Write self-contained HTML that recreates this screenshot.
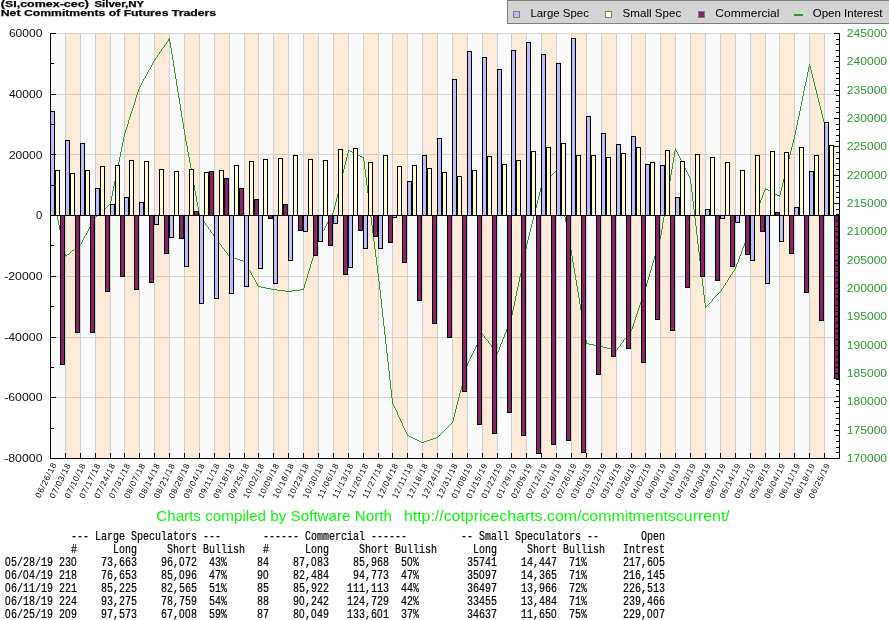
<!DOCTYPE html>
<html><head><meta charset="utf-8"><title>Net Commitments of Futures Traders - Silver</title>
<style>html,body{margin:0;padding:0;background:#fff;overflow:hidden}svg{display:block;will-change:transform}text{font-family:"Liberation Sans", sans-serif}.m{font-family:"Liberation Mono", monospace}</style></head><body>
<svg width="889" height="620" viewBox="0 0 889 620">
<rect x="0" y="0" width="889" height="620" fill="#ffffff"/>
<g shape-rendering="crispEdges">
<rect x="51" y="33" width="14" height="425" fill="#fafafa"/>
<rect x="66" y="33" width="14" height="425" fill="#fdebd9"/>
<rect x="81" y="33" width="14" height="425" fill="#fafafa"/>
<rect x="96" y="33" width="14" height="425" fill="#fdebd9"/>
<rect x="111" y="33" width="13" height="425" fill="#fafafa"/>
<rect x="125" y="33" width="14" height="425" fill="#fdebd9"/>
<rect x="140" y="33" width="14" height="425" fill="#fafafa"/>
<rect x="155" y="33" width="14" height="425" fill="#fdebd9"/>
<rect x="170" y="33" width="14" height="425" fill="#fafafa"/>
<rect x="185" y="33" width="14" height="425" fill="#fdebd9"/>
<rect x="200" y="33" width="14" height="425" fill="#fafafa"/>
<rect x="215" y="33" width="14" height="425" fill="#fdebd9"/>
<rect x="230" y="33" width="14" height="425" fill="#fafafa"/>
<rect x="245" y="33" width="13" height="425" fill="#fdebd9"/>
<rect x="259" y="33" width="14" height="425" fill="#fafafa"/>
<rect x="274" y="33" width="14" height="425" fill="#fdebd9"/>
<rect x="289" y="33" width="14" height="425" fill="#fafafa"/>
<rect x="304" y="33" width="14" height="425" fill="#fdebd9"/>
<rect x="319" y="33" width="14" height="425" fill="#fafafa"/>
<rect x="334" y="33" width="14" height="425" fill="#fdebd9"/>
<rect x="349" y="33" width="14" height="425" fill="#fafafa"/>
<rect x="364" y="33" width="14" height="425" fill="#fdebd9"/>
<rect x="379" y="33" width="13" height="425" fill="#fafafa"/>
<rect x="393" y="33" width="14" height="425" fill="#fdebd9"/>
<rect x="408" y="33" width="14" height="425" fill="#fafafa"/>
<rect x="423" y="33" width="14" height="425" fill="#fdebd9"/>
<rect x="438" y="33" width="14" height="425" fill="#fafafa"/>
<rect x="453" y="33" width="14" height="425" fill="#fdebd9"/>
<rect x="468" y="33" width="14" height="425" fill="#fafafa"/>
<rect x="483" y="33" width="14" height="425" fill="#fdebd9"/>
<rect x="498" y="33" width="13" height="425" fill="#fafafa"/>
<rect x="512" y="33" width="14" height="425" fill="#fdebd9"/>
<rect x="527" y="33" width="14" height="425" fill="#fafafa"/>
<rect x="542" y="33" width="14" height="425" fill="#fdebd9"/>
<rect x="557" y="33" width="14" height="425" fill="#fafafa"/>
<rect x="572" y="33" width="14" height="425" fill="#fdebd9"/>
<rect x="587" y="33" width="14" height="425" fill="#fafafa"/>
<rect x="602" y="33" width="14" height="425" fill="#fdebd9"/>
<rect x="617" y="33" width="14" height="425" fill="#fafafa"/>
<rect x="632" y="33" width="13" height="425" fill="#fdebd9"/>
<rect x="646" y="33" width="14" height="425" fill="#fafafa"/>
<rect x="661" y="33" width="14" height="425" fill="#fdebd9"/>
<rect x="676" y="33" width="14" height="425" fill="#fafafa"/>
<rect x="691" y="33" width="14" height="425" fill="#fdebd9"/>
<rect x="706" y="33" width="14" height="425" fill="#fafafa"/>
<rect x="721" y="33" width="14" height="425" fill="#fdebd9"/>
<rect x="736" y="33" width="14" height="425" fill="#fafafa"/>
<rect x="751" y="33" width="14" height="425" fill="#fdebd9"/>
<rect x="766" y="33" width="13" height="425" fill="#fafafa"/>
<rect x="780" y="33" width="14" height="425" fill="#fdebd9"/>
<rect x="795" y="33" width="14" height="425" fill="#fafafa"/>
<rect x="810" y="33" width="14" height="425" fill="#fdebd9"/>
<rect x="825" y="33" width="14" height="425" fill="#fafafa"/>
<rect x="65" y="33" width="1" height="425" fill="#cfcfcf"/>
<rect x="80" y="33" width="1" height="425" fill="#cfcfcf"/>
<rect x="95" y="33" width="1" height="425" fill="#cfcfcf"/>
<rect x="110" y="33" width="1" height="425" fill="#cfcfcf"/>
<rect x="124" y="33" width="1" height="425" fill="#cfcfcf"/>
<rect x="139" y="33" width="1" height="425" fill="#cfcfcf"/>
<rect x="154" y="33" width="1" height="425" fill="#cfcfcf"/>
<rect x="169" y="33" width="1" height="425" fill="#cfcfcf"/>
<rect x="184" y="33" width="1" height="425" fill="#cfcfcf"/>
<rect x="199" y="33" width="1" height="425" fill="#cfcfcf"/>
<rect x="214" y="33" width="1" height="425" fill="#cfcfcf"/>
<rect x="229" y="33" width="1" height="425" fill="#cfcfcf"/>
<rect x="244" y="33" width="1" height="425" fill="#cfcfcf"/>
<rect x="258" y="33" width="1" height="425" fill="#cfcfcf"/>
<rect x="273" y="33" width="1" height="425" fill="#cfcfcf"/>
<rect x="288" y="33" width="1" height="425" fill="#cfcfcf"/>
<rect x="303" y="33" width="1" height="425" fill="#cfcfcf"/>
<rect x="318" y="33" width="1" height="425" fill="#cfcfcf"/>
<rect x="333" y="33" width="1" height="425" fill="#cfcfcf"/>
<rect x="348" y="33" width="1" height="425" fill="#cfcfcf"/>
<rect x="363" y="33" width="1" height="425" fill="#cfcfcf"/>
<rect x="378" y="33" width="1" height="425" fill="#cfcfcf"/>
<rect x="392" y="33" width="1" height="425" fill="#cfcfcf"/>
<rect x="407" y="33" width="1" height="425" fill="#cfcfcf"/>
<rect x="422" y="33" width="1" height="425" fill="#cfcfcf"/>
<rect x="437" y="33" width="1" height="425" fill="#cfcfcf"/>
<rect x="452" y="33" width="1" height="425" fill="#cfcfcf"/>
<rect x="467" y="33" width="1" height="425" fill="#cfcfcf"/>
<rect x="482" y="33" width="1" height="425" fill="#cfcfcf"/>
<rect x="497" y="33" width="1" height="425" fill="#cfcfcf"/>
<rect x="511" y="33" width="1" height="425" fill="#cfcfcf"/>
<rect x="526" y="33" width="1" height="425" fill="#cfcfcf"/>
<rect x="541" y="33" width="1" height="425" fill="#cfcfcf"/>
<rect x="556" y="33" width="1" height="425" fill="#cfcfcf"/>
<rect x="571" y="33" width="1" height="425" fill="#cfcfcf"/>
<rect x="586" y="33" width="1" height="425" fill="#cfcfcf"/>
<rect x="601" y="33" width="1" height="425" fill="#cfcfcf"/>
<rect x="616" y="33" width="1" height="425" fill="#cfcfcf"/>
<rect x="631" y="33" width="1" height="425" fill="#cfcfcf"/>
<rect x="645" y="33" width="1" height="425" fill="#cfcfcf"/>
<rect x="660" y="33" width="1" height="425" fill="#cfcfcf"/>
<rect x="675" y="33" width="1" height="425" fill="#cfcfcf"/>
<rect x="690" y="33" width="1" height="425" fill="#cfcfcf"/>
<rect x="705" y="33" width="1" height="425" fill="#cfcfcf"/>
<rect x="720" y="33" width="1" height="425" fill="#cfcfcf"/>
<rect x="735" y="33" width="1" height="425" fill="#cfcfcf"/>
<rect x="750" y="33" width="1" height="425" fill="#cfcfcf"/>
<rect x="765" y="33" width="1" height="425" fill="#cfcfcf"/>
<rect x="779" y="33" width="1" height="425" fill="#cfcfcf"/>
<rect x="794" y="33" width="1" height="425" fill="#cfcfcf"/>
<rect x="809" y="33" width="1" height="425" fill="#cfcfcf"/>
<rect x="824" y="33" width="1" height="425" fill="#cfcfcf"/>
<rect x="51" y="33" width="788" height="1" fill="#d6d6d6"/>
<rect x="66" y="33" width="14" height="1" fill="#dcc9b2"/>
<rect x="96" y="33" width="14" height="1" fill="#dcc9b2"/>
<rect x="125" y="33" width="14" height="1" fill="#dcc9b2"/>
<rect x="155" y="33" width="14" height="1" fill="#dcc9b2"/>
<rect x="185" y="33" width="14" height="1" fill="#dcc9b2"/>
<rect x="215" y="33" width="14" height="1" fill="#dcc9b2"/>
<rect x="245" y="33" width="13" height="1" fill="#dcc9b2"/>
<rect x="274" y="33" width="14" height="1" fill="#dcc9b2"/>
<rect x="304" y="33" width="14" height="1" fill="#dcc9b2"/>
<rect x="334" y="33" width="14" height="1" fill="#dcc9b2"/>
<rect x="364" y="33" width="14" height="1" fill="#dcc9b2"/>
<rect x="393" y="33" width="14" height="1" fill="#dcc9b2"/>
<rect x="423" y="33" width="14" height="1" fill="#dcc9b2"/>
<rect x="453" y="33" width="14" height="1" fill="#dcc9b2"/>
<rect x="483" y="33" width="14" height="1" fill="#dcc9b2"/>
<rect x="512" y="33" width="14" height="1" fill="#dcc9b2"/>
<rect x="542" y="33" width="14" height="1" fill="#dcc9b2"/>
<rect x="572" y="33" width="14" height="1" fill="#dcc9b2"/>
<rect x="602" y="33" width="14" height="1" fill="#dcc9b2"/>
<rect x="632" y="33" width="13" height="1" fill="#dcc9b2"/>
<rect x="661" y="33" width="14" height="1" fill="#dcc9b2"/>
<rect x="691" y="33" width="14" height="1" fill="#dcc9b2"/>
<rect x="721" y="33" width="14" height="1" fill="#dcc9b2"/>
<rect x="751" y="33" width="14" height="1" fill="#dcc9b2"/>
<rect x="780" y="33" width="14" height="1" fill="#dcc9b2"/>
<rect x="810" y="33" width="14" height="1" fill="#dcc9b2"/>
<rect x="51" y="94" width="788" height="1" fill="#d6d6d6"/>
<rect x="66" y="94" width="14" height="1" fill="#dcc9b2"/>
<rect x="96" y="94" width="14" height="1" fill="#dcc9b2"/>
<rect x="125" y="94" width="14" height="1" fill="#dcc9b2"/>
<rect x="155" y="94" width="14" height="1" fill="#dcc9b2"/>
<rect x="185" y="94" width="14" height="1" fill="#dcc9b2"/>
<rect x="215" y="94" width="14" height="1" fill="#dcc9b2"/>
<rect x="245" y="94" width="13" height="1" fill="#dcc9b2"/>
<rect x="274" y="94" width="14" height="1" fill="#dcc9b2"/>
<rect x="304" y="94" width="14" height="1" fill="#dcc9b2"/>
<rect x="334" y="94" width="14" height="1" fill="#dcc9b2"/>
<rect x="364" y="94" width="14" height="1" fill="#dcc9b2"/>
<rect x="393" y="94" width="14" height="1" fill="#dcc9b2"/>
<rect x="423" y="94" width="14" height="1" fill="#dcc9b2"/>
<rect x="453" y="94" width="14" height="1" fill="#dcc9b2"/>
<rect x="483" y="94" width="14" height="1" fill="#dcc9b2"/>
<rect x="512" y="94" width="14" height="1" fill="#dcc9b2"/>
<rect x="542" y="94" width="14" height="1" fill="#dcc9b2"/>
<rect x="572" y="94" width="14" height="1" fill="#dcc9b2"/>
<rect x="602" y="94" width="14" height="1" fill="#dcc9b2"/>
<rect x="632" y="94" width="13" height="1" fill="#dcc9b2"/>
<rect x="661" y="94" width="14" height="1" fill="#dcc9b2"/>
<rect x="691" y="94" width="14" height="1" fill="#dcc9b2"/>
<rect x="721" y="94" width="14" height="1" fill="#dcc9b2"/>
<rect x="751" y="94" width="14" height="1" fill="#dcc9b2"/>
<rect x="780" y="94" width="14" height="1" fill="#dcc9b2"/>
<rect x="810" y="94" width="14" height="1" fill="#dcc9b2"/>
<rect x="51" y="154" width="788" height="1" fill="#d6d6d6"/>
<rect x="66" y="154" width="14" height="1" fill="#dcc9b2"/>
<rect x="96" y="154" width="14" height="1" fill="#dcc9b2"/>
<rect x="125" y="154" width="14" height="1" fill="#dcc9b2"/>
<rect x="155" y="154" width="14" height="1" fill="#dcc9b2"/>
<rect x="185" y="154" width="14" height="1" fill="#dcc9b2"/>
<rect x="215" y="154" width="14" height="1" fill="#dcc9b2"/>
<rect x="245" y="154" width="13" height="1" fill="#dcc9b2"/>
<rect x="274" y="154" width="14" height="1" fill="#dcc9b2"/>
<rect x="304" y="154" width="14" height="1" fill="#dcc9b2"/>
<rect x="334" y="154" width="14" height="1" fill="#dcc9b2"/>
<rect x="364" y="154" width="14" height="1" fill="#dcc9b2"/>
<rect x="393" y="154" width="14" height="1" fill="#dcc9b2"/>
<rect x="423" y="154" width="14" height="1" fill="#dcc9b2"/>
<rect x="453" y="154" width="14" height="1" fill="#dcc9b2"/>
<rect x="483" y="154" width="14" height="1" fill="#dcc9b2"/>
<rect x="512" y="154" width="14" height="1" fill="#dcc9b2"/>
<rect x="542" y="154" width="14" height="1" fill="#dcc9b2"/>
<rect x="572" y="154" width="14" height="1" fill="#dcc9b2"/>
<rect x="602" y="154" width="14" height="1" fill="#dcc9b2"/>
<rect x="632" y="154" width="13" height="1" fill="#dcc9b2"/>
<rect x="661" y="154" width="14" height="1" fill="#dcc9b2"/>
<rect x="691" y="154" width="14" height="1" fill="#dcc9b2"/>
<rect x="721" y="154" width="14" height="1" fill="#dcc9b2"/>
<rect x="751" y="154" width="14" height="1" fill="#dcc9b2"/>
<rect x="780" y="154" width="14" height="1" fill="#dcc9b2"/>
<rect x="810" y="154" width="14" height="1" fill="#dcc9b2"/>
<rect x="51" y="276" width="788" height="1" fill="#d6d6d6"/>
<rect x="66" y="276" width="14" height="1" fill="#dcc9b2"/>
<rect x="96" y="276" width="14" height="1" fill="#dcc9b2"/>
<rect x="125" y="276" width="14" height="1" fill="#dcc9b2"/>
<rect x="155" y="276" width="14" height="1" fill="#dcc9b2"/>
<rect x="185" y="276" width="14" height="1" fill="#dcc9b2"/>
<rect x="215" y="276" width="14" height="1" fill="#dcc9b2"/>
<rect x="245" y="276" width="13" height="1" fill="#dcc9b2"/>
<rect x="274" y="276" width="14" height="1" fill="#dcc9b2"/>
<rect x="304" y="276" width="14" height="1" fill="#dcc9b2"/>
<rect x="334" y="276" width="14" height="1" fill="#dcc9b2"/>
<rect x="364" y="276" width="14" height="1" fill="#dcc9b2"/>
<rect x="393" y="276" width="14" height="1" fill="#dcc9b2"/>
<rect x="423" y="276" width="14" height="1" fill="#dcc9b2"/>
<rect x="453" y="276" width="14" height="1" fill="#dcc9b2"/>
<rect x="483" y="276" width="14" height="1" fill="#dcc9b2"/>
<rect x="512" y="276" width="14" height="1" fill="#dcc9b2"/>
<rect x="542" y="276" width="14" height="1" fill="#dcc9b2"/>
<rect x="572" y="276" width="14" height="1" fill="#dcc9b2"/>
<rect x="602" y="276" width="14" height="1" fill="#dcc9b2"/>
<rect x="632" y="276" width="13" height="1" fill="#dcc9b2"/>
<rect x="661" y="276" width="14" height="1" fill="#dcc9b2"/>
<rect x="691" y="276" width="14" height="1" fill="#dcc9b2"/>
<rect x="721" y="276" width="14" height="1" fill="#dcc9b2"/>
<rect x="751" y="276" width="14" height="1" fill="#dcc9b2"/>
<rect x="780" y="276" width="14" height="1" fill="#dcc9b2"/>
<rect x="810" y="276" width="14" height="1" fill="#dcc9b2"/>
<rect x="51" y="337" width="788" height="1" fill="#d6d6d6"/>
<rect x="66" y="337" width="14" height="1" fill="#dcc9b2"/>
<rect x="96" y="337" width="14" height="1" fill="#dcc9b2"/>
<rect x="125" y="337" width="14" height="1" fill="#dcc9b2"/>
<rect x="155" y="337" width="14" height="1" fill="#dcc9b2"/>
<rect x="185" y="337" width="14" height="1" fill="#dcc9b2"/>
<rect x="215" y="337" width="14" height="1" fill="#dcc9b2"/>
<rect x="245" y="337" width="13" height="1" fill="#dcc9b2"/>
<rect x="274" y="337" width="14" height="1" fill="#dcc9b2"/>
<rect x="304" y="337" width="14" height="1" fill="#dcc9b2"/>
<rect x="334" y="337" width="14" height="1" fill="#dcc9b2"/>
<rect x="364" y="337" width="14" height="1" fill="#dcc9b2"/>
<rect x="393" y="337" width="14" height="1" fill="#dcc9b2"/>
<rect x="423" y="337" width="14" height="1" fill="#dcc9b2"/>
<rect x="453" y="337" width="14" height="1" fill="#dcc9b2"/>
<rect x="483" y="337" width="14" height="1" fill="#dcc9b2"/>
<rect x="512" y="337" width="14" height="1" fill="#dcc9b2"/>
<rect x="542" y="337" width="14" height="1" fill="#dcc9b2"/>
<rect x="572" y="337" width="14" height="1" fill="#dcc9b2"/>
<rect x="602" y="337" width="14" height="1" fill="#dcc9b2"/>
<rect x="632" y="337" width="13" height="1" fill="#dcc9b2"/>
<rect x="661" y="337" width="14" height="1" fill="#dcc9b2"/>
<rect x="691" y="337" width="14" height="1" fill="#dcc9b2"/>
<rect x="721" y="337" width="14" height="1" fill="#dcc9b2"/>
<rect x="751" y="337" width="14" height="1" fill="#dcc9b2"/>
<rect x="780" y="337" width="14" height="1" fill="#dcc9b2"/>
<rect x="810" y="337" width="14" height="1" fill="#dcc9b2"/>
<rect x="51" y="397" width="788" height="1" fill="#d6d6d6"/>
<rect x="66" y="397" width="14" height="1" fill="#dcc9b2"/>
<rect x="96" y="397" width="14" height="1" fill="#dcc9b2"/>
<rect x="125" y="397" width="14" height="1" fill="#dcc9b2"/>
<rect x="155" y="397" width="14" height="1" fill="#dcc9b2"/>
<rect x="185" y="397" width="14" height="1" fill="#dcc9b2"/>
<rect x="215" y="397" width="14" height="1" fill="#dcc9b2"/>
<rect x="245" y="397" width="13" height="1" fill="#dcc9b2"/>
<rect x="274" y="397" width="14" height="1" fill="#dcc9b2"/>
<rect x="304" y="397" width="14" height="1" fill="#dcc9b2"/>
<rect x="334" y="397" width="14" height="1" fill="#dcc9b2"/>
<rect x="364" y="397" width="14" height="1" fill="#dcc9b2"/>
<rect x="393" y="397" width="14" height="1" fill="#dcc9b2"/>
<rect x="423" y="397" width="14" height="1" fill="#dcc9b2"/>
<rect x="453" y="397" width="14" height="1" fill="#dcc9b2"/>
<rect x="483" y="397" width="14" height="1" fill="#dcc9b2"/>
<rect x="512" y="397" width="14" height="1" fill="#dcc9b2"/>
<rect x="542" y="397" width="14" height="1" fill="#dcc9b2"/>
<rect x="572" y="397" width="14" height="1" fill="#dcc9b2"/>
<rect x="602" y="397" width="14" height="1" fill="#dcc9b2"/>
<rect x="632" y="397" width="13" height="1" fill="#dcc9b2"/>
<rect x="661" y="397" width="14" height="1" fill="#dcc9b2"/>
<rect x="691" y="397" width="14" height="1" fill="#dcc9b2"/>
<rect x="721" y="397" width="14" height="1" fill="#dcc9b2"/>
<rect x="751" y="397" width="14" height="1" fill="#dcc9b2"/>
<rect x="780" y="397" width="14" height="1" fill="#dcc9b2"/>
<rect x="810" y="397" width="14" height="1" fill="#dcc9b2"/>
<rect x="65" y="33" width="1" height="425" fill="#cfcfcf"/>
<rect x="80" y="33" width="1" height="425" fill="#cfcfcf"/>
<rect x="95" y="33" width="1" height="425" fill="#cfcfcf"/>
<rect x="110" y="33" width="1" height="425" fill="#cfcfcf"/>
<rect x="124" y="33" width="1" height="425" fill="#cfcfcf"/>
<rect x="139" y="33" width="1" height="425" fill="#cfcfcf"/>
<rect x="154" y="33" width="1" height="425" fill="#cfcfcf"/>
<rect x="169" y="33" width="1" height="425" fill="#cfcfcf"/>
<rect x="184" y="33" width="1" height="425" fill="#cfcfcf"/>
<rect x="199" y="33" width="1" height="425" fill="#cfcfcf"/>
<rect x="214" y="33" width="1" height="425" fill="#cfcfcf"/>
<rect x="229" y="33" width="1" height="425" fill="#cfcfcf"/>
<rect x="244" y="33" width="1" height="425" fill="#cfcfcf"/>
<rect x="258" y="33" width="1" height="425" fill="#cfcfcf"/>
<rect x="273" y="33" width="1" height="425" fill="#cfcfcf"/>
<rect x="288" y="33" width="1" height="425" fill="#cfcfcf"/>
<rect x="303" y="33" width="1" height="425" fill="#cfcfcf"/>
<rect x="318" y="33" width="1" height="425" fill="#cfcfcf"/>
<rect x="333" y="33" width="1" height="425" fill="#cfcfcf"/>
<rect x="348" y="33" width="1" height="425" fill="#cfcfcf"/>
<rect x="363" y="33" width="1" height="425" fill="#cfcfcf"/>
<rect x="378" y="33" width="1" height="425" fill="#cfcfcf"/>
<rect x="392" y="33" width="1" height="425" fill="#cfcfcf"/>
<rect x="407" y="33" width="1" height="425" fill="#cfcfcf"/>
<rect x="422" y="33" width="1" height="425" fill="#cfcfcf"/>
<rect x="437" y="33" width="1" height="425" fill="#cfcfcf"/>
<rect x="452" y="33" width="1" height="425" fill="#cfcfcf"/>
<rect x="467" y="33" width="1" height="425" fill="#cfcfcf"/>
<rect x="482" y="33" width="1" height="425" fill="#cfcfcf"/>
<rect x="497" y="33" width="1" height="425" fill="#cfcfcf"/>
<rect x="511" y="33" width="1" height="425" fill="#cfcfcf"/>
<rect x="526" y="33" width="1" height="425" fill="#cfcfcf"/>
<rect x="541" y="33" width="1" height="425" fill="#cfcfcf"/>
<rect x="556" y="33" width="1" height="425" fill="#cfcfcf"/>
<rect x="571" y="33" width="1" height="425" fill="#cfcfcf"/>
<rect x="586" y="33" width="1" height="425" fill="#cfcfcf"/>
<rect x="601" y="33" width="1" height="425" fill="#cfcfcf"/>
<rect x="616" y="33" width="1" height="425" fill="#cfcfcf"/>
<rect x="631" y="33" width="1" height="425" fill="#cfcfcf"/>
<rect x="645" y="33" width="1" height="425" fill="#cfcfcf"/>
<rect x="660" y="33" width="1" height="425" fill="#cfcfcf"/>
<rect x="675" y="33" width="1" height="425" fill="#cfcfcf"/>
<rect x="690" y="33" width="1" height="425" fill="#cfcfcf"/>
<rect x="705" y="33" width="1" height="425" fill="#cfcfcf"/>
<rect x="720" y="33" width="1" height="425" fill="#cfcfcf"/>
<rect x="735" y="33" width="1" height="425" fill="#cfcfcf"/>
<rect x="750" y="33" width="1" height="425" fill="#cfcfcf"/>
<rect x="765" y="33" width="1" height="425" fill="#cfcfcf"/>
<rect x="779" y="33" width="1" height="425" fill="#cfcfcf"/>
<rect x="794" y="33" width="1" height="425" fill="#cfcfcf"/>
<rect x="809" y="33" width="1" height="425" fill="#cfcfcf"/>
<rect x="824" y="33" width="1" height="425" fill="#cfcfcf"/>
</g>
<path d="M50 183h1v3h-1zM51 186h1v5h-1zM52 191h1v5h-1zM53 196h1v5h-1zM54 201h1v4h-1zM55 205h1v5h-1zM56 210h1v5h-1zM57 215h1v5h-1zM58 220h1v5h-1zM59 225h1v5h-1zM60 230h1v5h-1zM61 235h1v4h-1zM62 239h1v5h-1zM63 244h1v5h-1zM64 249h1v5h-1zM65 254h1v3h-1zM66 255h1v1h-1zM67 254h1v1h-1zM68 254h1v1h-1zM69 253h1v1h-1zM70 252h1v1h-1zM71 251h1v1h-1zM72 250h1v1h-1zM73 250h1v1h-1zM74 249h1v1h-1zM75 248h1v1h-1zM76 247h1v1h-1zM77 246h1v1h-1zM78 246h1v1h-1zM79 245h1v1h-1zM80 244h1v1h-1zM81 242h1v2h-1zM82 240h1v2h-1zM83 238h1v2h-1zM84 236h1v2h-1zM85 235h1v1h-1zM86 233h1v2h-1zM87 231h1v2h-1zM88 229h1v2h-1zM89 227h1v2h-1zM90 226h1v1h-1zM91 224h1v2h-1zM92 222h1v2h-1zM93 220h1v2h-1zM94 218h1v2h-1zM95 217h1v1h-1zM96 216h1v1h-1zM97 215h1v1h-1zM98 214h1v1h-1zM99 213h1v1h-1zM100 212h1v1h-1zM101 211h1v1h-1zM102 210h1v1h-1zM103 210h1v1h-1zM104 209h1v1h-1zM105 208h1v1h-1zM106 207h1v1h-1zM107 206h1v1h-1zM108 205h1v1h-1zM109 204h1v1h-1zM110 201h1v3h-1zM111 196h1v5h-1zM112 191h1v5h-1zM113 186h1v5h-1zM114 181h1v5h-1zM115 176h1v5h-1zM116 171h1v5h-1zM117 167h1v4h-1zM118 162h1v5h-1zM119 157h1v5h-1zM120 152h1v5h-1zM121 147h1v5h-1zM122 142h1v5h-1zM123 137h1v5h-1zM124 133h1v4h-1zM125 130h1v3h-1zM126 127h1v3h-1zM127 124h1v3h-1zM128 120h1v4h-1zM129 117h1v3h-1zM130 114h1v3h-1zM131 111h1v3h-1zM132 108h1v3h-1zM133 105h1v3h-1zM134 102h1v3h-1zM135 98h1v4h-1zM136 95h1v3h-1zM137 92h1v3h-1zM138 89h1v3h-1zM139 87h1v2h-1zM140 85h1v2h-1zM141 83h1v2h-1zM142 81h1v2h-1zM143 79h1v2h-1zM144 78h1v1h-1zM145 76h1v2h-1zM146 74h1v2h-1zM147 72h1v2h-1zM148 70h1v2h-1zM149 69h1v1h-1zM150 67h1v2h-1zM151 65h1v2h-1zM152 63h1v2h-1zM153 61h1v2h-1zM154 60h1v1h-1zM155 58h1v2h-1zM156 57h1v1h-1zM157 55h1v2h-1zM158 54h1v1h-1zM159 52h1v2h-1zM160 51h1v1h-1zM161 49h1v2h-1zM162 48h1v1h-1zM163 47h1v1h-1zM164 45h1v2h-1zM165 44h1v1h-1zM166 42h1v2h-1zM167 41h1v1h-1zM168 39h1v2h-1zM169 38h1v4h-1zM170 42h1v6h-1zM171 48h1v6h-1zM172 54h1v6h-1zM173 60h1v7h-1zM174 67h1v6h-1zM175 73h1v6h-1zM176 79h1v7h-1zM177 86h1v6h-1zM178 92h1v6h-1zM179 98h1v6h-1zM180 104h1v7h-1zM181 111h1v6h-1zM182 117h1v6h-1zM183 123h1v6h-1zM184 129h1v6h-1zM185 135h1v6h-1zM186 141h1v5h-1zM187 146h1v6h-1zM188 152h1v5h-1zM189 157h1v6h-1zM190 163h1v5h-1zM191 168h1v6h-1zM192 174h1v6h-1zM193 180h1v5h-1zM194 185h1v6h-1zM195 191h1v5h-1zM196 196h1v6h-1zM197 202h1v5h-1zM198 207h1v6h-1zM199 213h1v3h-1zM200 216h1v2h-1zM201 218h1v1h-1zM202 219h1v1h-1zM203 220h1v2h-1zM204 222h1v1h-1zM205 223h1v2h-1zM206 225h1v1h-1zM207 226h1v1h-1zM208 227h1v2h-1zM209 229h1v1h-1zM210 230h1v2h-1zM211 232h1v1h-1zM212 233h1v1h-1zM213 234h1v2h-1zM214 236h1v1h-1zM215 237h1v2h-1zM216 239h1v1h-1zM217 240h1v1h-1zM218 241h1v2h-1zM219 243h1v1h-1zM220 244h1v1h-1zM221 245h1v2h-1zM222 247h1v1h-1zM223 248h1v1h-1zM224 249h1v2h-1zM225 251h1v1h-1zM226 252h1v1h-1zM227 253h1v2h-1zM228 255h1v1h-1zM229 256h1v1h-1zM230 256h1v1h-1zM231 257h1v1h-1zM232 257h1v1h-1zM233 257h1v1h-1zM234 258h1v1h-1zM235 258h1v1h-1zM236 258h1v1h-1zM237 259h1v1h-1zM238 259h1v1h-1zM239 259h1v1h-1zM240 260h1v1h-1zM241 260h1v1h-1zM242 260h1v1h-1zM243 261h1v1h-1zM244 261h1v1h-1zM245 262h1v2h-1zM246 264h1v2h-1zM247 266h1v2h-1zM248 268h1v2h-1zM249 270h1v1h-1zM250 271h1v2h-1zM251 273h1v2h-1zM252 275h1v2h-1zM253 277h1v1h-1zM254 278h1v2h-1zM255 280h1v2h-1zM256 282h1v2h-1zM257 284h1v2h-1zM258 286h1v1h-1zM259 286h1v1h-1zM260 286h1v1h-1zM261 287h1v1h-1zM262 287h1v1h-1zM263 287h1v1h-1zM264 287h1v1h-1zM265 287h1v1h-1zM266 288h1v1h-1zM267 288h1v1h-1zM268 288h1v1h-1zM269 288h1v1h-1zM270 288h1v1h-1zM271 289h1v1h-1zM272 289h1v1h-1zM273 289h1v1h-1zM274 289h1v1h-1zM275 289h1v1h-1zM276 289h1v1h-1zM277 290h1v1h-1zM278 290h1v1h-1zM279 290h1v1h-1zM280 290h1v1h-1zM281 290h1v1h-1zM282 290h1v1h-1zM283 290h1v1h-1zM284 290h1v1h-1zM285 291h1v1h-1zM286 291h1v1h-1zM287 291h1v1h-1zM288 291h1v1h-1zM289 291h1v1h-1zM290 291h1v1h-1zM291 291h1v1h-1zM292 290h1v1h-1zM293 290h1v1h-1zM294 290h1v1h-1zM295 290h1v1h-1zM296 290h1v1h-1zM297 290h1v1h-1zM298 290h1v1h-1zM299 290h1v1h-1zM300 289h1v1h-1zM301 289h1v1h-1zM302 289h1v1h-1zM303 288h1v2h-1zM304 284h1v4h-1zM305 281h1v3h-1zM306 278h1v3h-1zM307 274h1v4h-1zM308 271h1v3h-1zM309 268h1v3h-1zM310 264h1v4h-1zM311 261h1v3h-1zM312 258h1v3h-1zM313 254h1v4h-1zM314 251h1v3h-1zM315 248h1v3h-1zM316 244h1v4h-1zM317 241h1v3h-1zM318 239h1v2h-1zM319 237h1v2h-1zM320 235h1v2h-1zM321 233h1v2h-1zM322 231h1v2h-1zM323 230h1v1h-1zM324 228h1v2h-1zM325 226h1v2h-1zM326 224h1v2h-1zM327 222h1v2h-1zM328 221h1v1h-1zM329 219h1v2h-1zM330 217h1v2h-1zM331 215h1v2h-1zM332 213h1v2h-1zM333 210h1v3h-1zM334 206h1v4h-1zM335 202h1v4h-1zM336 198h1v4h-1zM337 194h1v4h-1zM338 190h1v4h-1zM339 186h1v4h-1zM340 181h1v5h-1zM341 177h1v4h-1zM342 173h1v4h-1zM343 169h1v4h-1zM344 165h1v4h-1zM345 161h1v4h-1zM346 157h1v4h-1zM347 153h1v4h-1zM348 150h1v3h-1zM349 150h1v1h-1zM350 151h1v1h-1zM351 151h1v1h-1zM352 152h1v1h-1zM353 152h1v1h-1zM354 153h1v1h-1zM355 153h1v1h-1zM356 154h1v1h-1zM357 154h1v1h-1zM358 155h1v1h-1zM359 155h1v1h-1zM360 156h1v1h-1zM361 156h1v1h-1zM362 157h1v1h-1zM363 157h1v4h-1zM364 161h1v8h-1zM365 169h1v8h-1zM366 177h1v8h-1zM367 185h1v8h-1zM368 193h1v8h-1zM369 201h1v8h-1zM370 209h1v8h-1zM371 217h1v8h-1zM372 225h1v8h-1zM373 233h1v8h-1zM374 241h1v8h-1zM375 249h1v8h-1zM376 257h1v8h-1zM377 265h1v8h-1zM378 273h1v8h-1zM379 281h1v9h-1zM380 290h1v9h-1zM381 299h1v9h-1zM382 308h1v9h-1zM383 317h1v9h-1zM384 326h1v9h-1zM385 335h1v9h-1zM386 344h1v9h-1zM387 353h1v9h-1zM388 362h1v9h-1zM389 371h1v9h-1zM390 380h1v9h-1zM391 389h1v9h-1zM392 398h1v6h-1zM393 404h1v2h-1zM394 406h1v2h-1zM395 408h1v2h-1zM396 410h1v2h-1zM397 412h1v3h-1zM398 415h1v2h-1zM399 417h1v2h-1zM400 419h1v2h-1zM401 421h1v2h-1zM402 423h1v3h-1zM403 426h1v2h-1zM404 428h1v2h-1zM405 430h1v2h-1zM406 432h1v2h-1zM407 434h1v2h-1zM408 435h1v1h-1zM409 436h1v1h-1zM410 436h1v1h-1zM411 437h1v1h-1zM412 437h1v1h-1zM413 438h1v1h-1zM414 438h1v1h-1zM415 439h1v1h-1zM416 439h1v1h-1zM417 440h1v1h-1zM418 440h1v1h-1zM419 441h1v1h-1zM420 441h1v1h-1zM421 442h1v1h-1zM422 442h1v1h-1zM423 442h1v1h-1zM424 441h1v1h-1zM425 441h1v1h-1zM426 441h1v1h-1zM427 440h1v1h-1zM428 440h1v1h-1zM429 440h1v1h-1zM430 439h1v1h-1zM431 439h1v1h-1zM432 439h1v1h-1zM433 438h1v1h-1zM434 438h1v1h-1zM435 438h1v1h-1zM436 437h1v1h-1zM437 437h1v1h-1zM438 436h1v1h-1zM439 435h1v1h-1zM440 434h1v1h-1zM441 433h1v1h-1zM442 432h1v1h-1zM443 431h1v1h-1zM444 430h1v1h-1zM445 429h1v1h-1zM446 428h1v1h-1zM447 427h1v1h-1zM448 426h1v1h-1zM449 425h1v1h-1zM450 424h1v1h-1zM451 423h1v1h-1zM452 421h1v2h-1zM453 417h1v4h-1zM454 413h1v4h-1zM455 409h1v4h-1zM456 405h1v4h-1zM457 401h1v4h-1zM458 397h1v4h-1zM459 393h1v4h-1zM460 390h1v3h-1zM461 386h1v4h-1zM462 382h1v4h-1zM463 378h1v4h-1zM464 374h1v4h-1zM465 370h1v4h-1zM466 366h1v4h-1zM467 363h1v3h-1zM468 361h1v2h-1zM469 359h1v2h-1zM470 357h1v2h-1zM471 355h1v2h-1zM472 353h1v2h-1zM473 351h1v2h-1zM474 349h1v2h-1zM475 347h1v2h-1zM476 345h1v2h-1zM477 343h1v2h-1zM478 341h1v2h-1zM479 339h1v2h-1zM480 337h1v2h-1zM481 335h1v2h-1zM482 334h1v1h-1zM483 335h1v1h-1zM484 336h1v2h-1zM485 338h1v1h-1zM486 339h1v1h-1zM487 340h1v1h-1zM488 341h1v2h-1zM489 343h1v1h-1zM490 344h1v1h-1zM491 345h1v2h-1zM492 347h1v1h-1zM493 348h1v1h-1zM494 349h1v1h-1zM495 350h1v2h-1zM496 352h1v1h-1zM497 352h1v2h-1zM498 350h1v2h-1zM499 347h1v3h-1zM500 344h1v3h-1zM501 342h1v2h-1zM502 339h1v3h-1zM503 337h1v2h-1zM504 334h1v3h-1zM505 332h1v2h-1zM506 329h1v3h-1zM507 326h1v3h-1zM508 324h1v2h-1zM509 321h1v3h-1zM510 319h1v2h-1zM511 315h1v4h-1zM512 310h1v5h-1zM513 306h1v4h-1zM514 301h1v5h-1zM515 296h1v5h-1zM516 291h1v5h-1zM517 287h1v4h-1zM518 282h1v5h-1zM519 277h1v5h-1zM520 273h1v4h-1zM521 268h1v5h-1zM522 263h1v5h-1zM523 258h1v5h-1zM524 254h1v4h-1zM525 249h1v5h-1zM526 244h1v5h-1zM527 240h1v4h-1zM528 236h1v4h-1zM529 232h1v4h-1zM530 228h1v4h-1zM531 224h1v4h-1zM532 220h1v4h-1zM533 216h1v4h-1zM534 212h1v4h-1zM535 208h1v4h-1zM536 204h1v4h-1zM537 200h1v4h-1zM538 196h1v4h-1zM539 192h1v4h-1zM540 188h1v4h-1zM541 186h1v2h-1zM542 185h1v1h-1zM543 184h1v1h-1zM544 183h1v1h-1zM545 182h1v1h-1zM546 181h1v1h-1zM547 180h1v1h-1zM548 178h1v2h-1zM549 177h1v1h-1zM550 176h1v1h-1zM551 175h1v1h-1zM552 174h1v1h-1zM553 173h1v1h-1zM554 172h1v1h-1zM555 171h1v1h-1zM556 170h1v3h-1zM557 173h1v6h-1zM558 179h1v5h-1zM559 184h1v6h-1zM560 190h1v5h-1zM561 195h1v6h-1zM562 201h1v5h-1zM563 206h1v6h-1zM564 212h1v5h-1zM565 217h1v5h-1zM566 222h1v6h-1zM567 228h1v5h-1zM568 233h1v6h-1zM569 239h1v5h-1zM570 244h1v6h-1zM571 250h1v6h-1zM572 256h1v6h-1zM573 262h1v6h-1zM574 268h1v6h-1zM575 274h1v6h-1zM576 280h1v6h-1zM577 286h1v6h-1zM578 292h1v6h-1zM579 298h1v6h-1zM580 304h1v6h-1zM581 310h1v6h-1zM582 316h1v6h-1zM583 322h1v6h-1zM584 328h1v6h-1zM585 334h1v6h-1zM586 340h1v4h-1zM587 343h1v1h-1zM588 343h1v1h-1zM589 344h1v1h-1zM590 344h1v1h-1zM591 344h1v1h-1zM592 344h1v1h-1zM593 344h1v1h-1zM594 345h1v1h-1zM595 345h1v1h-1zM596 345h1v1h-1zM597 345h1v1h-1zM598 345h1v1h-1zM599 346h1v1h-1zM600 346h1v1h-1zM601 346h1v1h-1zM602 346h1v1h-1zM603 347h1v1h-1zM604 347h1v1h-1zM605 347h1v1h-1zM606 347h1v1h-1zM607 348h1v1h-1zM608 348h1v1h-1zM609 348h1v1h-1zM610 348h1v1h-1zM611 349h1v1h-1zM612 349h1v1h-1zM613 349h1v1h-1zM614 349h1v1h-1zM615 350h1v1h-1zM616 350h1v1h-1zM617 348h1v2h-1zM618 347h1v1h-1zM619 346h1v1h-1zM620 344h1v2h-1zM621 343h1v1h-1zM622 342h1v1h-1zM623 340h1v2h-1zM624 339h1v1h-1zM625 338h1v1h-1zM626 336h1v2h-1zM627 335h1v1h-1zM628 334h1v1h-1zM629 332h1v2h-1zM630 331h1v1h-1zM631 329h1v2h-1zM632 326h1v3h-1zM633 323h1v3h-1zM634 320h1v3h-1zM635 317h1v3h-1zM636 314h1v3h-1zM637 311h1v3h-1zM638 308h1v3h-1zM639 305h1v3h-1zM640 302h1v3h-1zM641 299h1v3h-1zM642 296h1v3h-1zM643 293h1v3h-1zM644 290h1v3h-1zM645 287h1v3h-1zM646 283h1v4h-1zM647 280h1v3h-1zM648 277h1v3h-1zM649 273h1v4h-1zM650 270h1v3h-1zM651 266h1v4h-1zM652 263h1v3h-1zM653 260h1v3h-1zM654 256h1v4h-1zM655 253h1v3h-1zM656 249h1v4h-1zM657 246h1v3h-1zM658 243h1v3h-1zM659 239h1v4h-1zM660 235h1v4h-1zM661 229h1v6h-1zM662 223h1v6h-1zM663 217h1v6h-1zM664 211h1v6h-1zM665 205h1v6h-1zM666 199h1v6h-1zM667 193h1v6h-1zM668 187h1v6h-1zM669 181h1v6h-1zM670 175h1v6h-1zM671 169h1v6h-1zM672 163h1v6h-1zM673 157h1v6h-1zM674 151h1v6h-1zM675 148h1v3h-1zM676 150h1v2h-1zM677 152h1v2h-1zM678 154h1v2h-1zM679 156h1v2h-1zM680 158h1v2h-1zM681 160h1v2h-1zM682 162h1v2h-1zM683 164h1v2h-1zM684 166h1v2h-1zM685 168h1v2h-1zM686 170h1v2h-1zM687 172h1v2h-1zM688 174h1v2h-1zM689 176h1v2h-1zM690 178h1v6h-1zM691 184h1v8h-1zM692 192h1v9h-1zM693 201h1v8h-1zM694 209h1v9h-1zM695 218h1v8h-1zM696 226h1v9h-1zM697 235h1v9h-1zM698 244h1v8h-1zM699 252h1v9h-1zM700 261h1v8h-1zM701 269h1v9h-1zM702 278h1v8h-1zM703 286h1v9h-1zM704 295h1v8h-1zM705 303h1v5h-1zM706 306h1v1h-1zM707 305h1v1h-1zM708 304h1v1h-1zM709 303h1v1h-1zM710 302h1v1h-1zM711 301h1v1h-1zM712 299h1v2h-1zM713 298h1v1h-1zM714 297h1v1h-1zM715 296h1v1h-1zM716 295h1v1h-1zM717 294h1v1h-1zM718 293h1v1h-1zM719 292h1v1h-1zM720 291h1v1h-1zM721 289h1v2h-1zM722 288h1v1h-1zM723 286h1v2h-1zM724 285h1v1h-1zM725 283h1v2h-1zM726 282h1v1h-1zM727 280h1v2h-1zM728 278h1v2h-1zM729 277h1v1h-1zM730 275h1v2h-1zM731 274h1v1h-1zM732 272h1v2h-1zM733 271h1v1h-1zM734 269h1v2h-1zM735 267h1v2h-1zM736 264h1v3h-1zM737 262h1v2h-1zM738 259h1v3h-1zM739 256h1v3h-1zM740 254h1v2h-1zM741 251h1v3h-1zM742 248h1v3h-1zM743 246h1v2h-1zM744 243h1v3h-1zM745 240h1v3h-1zM746 238h1v2h-1zM747 235h1v3h-1zM748 232h1v3h-1zM749 230h1v2h-1zM750 227h1v3h-1zM751 224h1v3h-1zM752 222h1v2h-1zM753 219h1v3h-1zM754 216h1v3h-1zM755 214h1v2h-1zM756 211h1v3h-1zM757 208h1v3h-1zM758 206h1v2h-1zM759 203h1v3h-1zM760 200h1v3h-1zM761 198h1v2h-1zM762 195h1v3h-1zM763 192h1v3h-1zM764 190h1v2h-1zM765 188h1v2h-1zM766 189h1v1h-1zM767 189h1v1h-1zM768 190h1v1h-1zM769 190h1v1h-1zM770 191h1v1h-1zM771 191h1v1h-1zM772 192h1v1h-1zM773 193h1v1h-1zM774 193h1v1h-1zM775 194h1v1h-1zM776 194h1v1h-1zM777 195h1v1h-1zM778 195h1v1h-1zM779 195h1v2h-1zM780 191h1v4h-1zM781 187h1v4h-1zM782 183h1v4h-1zM783 179h1v4h-1zM784 175h1v4h-1zM785 171h1v4h-1zM786 167h1v4h-1zM787 163h1v4h-1zM788 159h1v4h-1zM789 155h1v4h-1zM790 151h1v4h-1zM791 147h1v4h-1zM792 143h1v4h-1zM793 139h1v4h-1zM794 135h1v4h-1zM795 130h1v5h-1zM796 125h1v5h-1zM797 120h1v5h-1zM798 116h1v4h-1zM799 111h1v5h-1zM800 106h1v5h-1zM801 101h1v5h-1zM802 96h1v5h-1zM803 91h1v5h-1zM804 86h1v5h-1zM805 82h1v4h-1zM806 77h1v5h-1zM807 72h1v5h-1zM808 67h1v5h-1zM809 64h1v3h-1zM810 66h1v4h-1zM811 70h1v4h-1zM812 74h1v4h-1zM813 78h1v4h-1zM814 82h1v4h-1zM815 86h1v4h-1zM816 90h1v4h-1zM817 94h1v4h-1zM818 98h1v4h-1zM819 102h1v4h-1zM820 106h1v4h-1zM821 110h1v4h-1zM822 114h1v4h-1zM823 118h1v4h-1zM824 122h1v2h-1z" fill="#2b9c2b" shape-rendering="crispEdges"/>
<g shape-rendering="crispEdges">
<rect x="50" y="111" width="5" height="105" fill="#000"/>
<rect x="51" y="112" width="3" height="103" fill="#bcbcfd"/>
<rect x="55" y="170" width="5" height="46" fill="#000"/>
<rect x="56" y="171" width="3" height="44" fill="#ffffcc"/>
<rect x="60" y="215" width="5" height="150" fill="#000"/>
<rect x="61" y="216" width="3" height="148" fill="#8b2268"/>
<rect x="65" y="140" width="5" height="76" fill="#000"/>
<rect x="66" y="141" width="3" height="74" fill="#bcbcfd"/>
<rect x="70" y="173" width="5" height="43" fill="#000"/>
<rect x="71" y="174" width="3" height="41" fill="#ffffcc"/>
<rect x="75" y="215" width="5" height="118" fill="#000"/>
<rect x="76" y="216" width="3" height="116" fill="#8b2268"/>
<rect x="80" y="143" width="5" height="73" fill="#000"/>
<rect x="81" y="144" width="3" height="71" fill="#bcbcfd"/>
<rect x="85" y="170" width="5" height="46" fill="#000"/>
<rect x="86" y="171" width="3" height="44" fill="#ffffcc"/>
<rect x="90" y="215" width="5" height="118" fill="#000"/>
<rect x="91" y="216" width="3" height="116" fill="#8b2268"/>
<rect x="95" y="188" width="5" height="28" fill="#000"/>
<rect x="96" y="189" width="3" height="26" fill="#bcbcfd"/>
<rect x="100" y="166" width="5" height="50" fill="#000"/>
<rect x="101" y="167" width="3" height="48" fill="#ffffcc"/>
<rect x="105" y="215" width="5" height="77" fill="#000"/>
<rect x="106" y="216" width="3" height="75" fill="#8b2268"/>
<rect x="110" y="204" width="5" height="12" fill="#000"/>
<rect x="111" y="205" width="3" height="10" fill="#bcbcfd"/>
<rect x="115" y="165" width="5" height="51" fill="#000"/>
<rect x="116" y="166" width="3" height="49" fill="#ffffcc"/>
<rect x="120" y="215" width="5" height="62" fill="#000"/>
<rect x="121" y="216" width="3" height="60" fill="#8b2268"/>
<rect x="124" y="197" width="5" height="19" fill="#000"/>
<rect x="125" y="198" width="3" height="17" fill="#bcbcfd"/>
<rect x="129" y="160" width="5" height="56" fill="#000"/>
<rect x="130" y="161" width="3" height="54" fill="#ffffcc"/>
<rect x="134" y="215" width="5" height="75" fill="#000"/>
<rect x="135" y="216" width="3" height="73" fill="#8b2268"/>
<rect x="139" y="202" width="5" height="14" fill="#000"/>
<rect x="140" y="203" width="3" height="12" fill="#bcbcfd"/>
<rect x="144" y="161" width="5" height="55" fill="#000"/>
<rect x="145" y="162" width="3" height="53" fill="#ffffcc"/>
<rect x="149" y="215" width="5" height="68" fill="#000"/>
<rect x="150" y="216" width="3" height="66" fill="#8b2268"/>
<rect x="154" y="215" width="5" height="10" fill="#000"/>
<rect x="155" y="216" width="3" height="8" fill="#bcbcfd"/>
<rect x="159" y="169" width="5" height="47" fill="#000"/>
<rect x="160" y="170" width="3" height="45" fill="#ffffcc"/>
<rect x="164" y="215" width="5" height="39" fill="#000"/>
<rect x="165" y="216" width="3" height="37" fill="#8b2268"/>
<rect x="169" y="215" width="5" height="23" fill="#000"/>
<rect x="170" y="216" width="3" height="21" fill="#bcbcfd"/>
<rect x="174" y="171" width="5" height="45" fill="#000"/>
<rect x="175" y="172" width="3" height="43" fill="#ffffcc"/>
<rect x="179" y="215" width="5" height="24" fill="#000"/>
<rect x="180" y="216" width="3" height="22" fill="#8b2268"/>
<rect x="184" y="215" width="5" height="52" fill="#000"/>
<rect x="185" y="216" width="3" height="50" fill="#bcbcfd"/>
<rect x="189" y="169" width="5" height="47" fill="#000"/>
<rect x="190" y="170" width="3" height="45" fill="#ffffcc"/>
<rect x="194" y="211" width="5" height="5" fill="#000"/>
<rect x="195" y="212" width="3" height="3" fill="#8b2268"/>
<rect x="199" y="215" width="5" height="89" fill="#000"/>
<rect x="200" y="216" width="3" height="87" fill="#bcbcfd"/>
<rect x="204" y="172" width="5" height="44" fill="#000"/>
<rect x="205" y="173" width="3" height="42" fill="#ffffcc"/>
<rect x="209" y="171" width="5" height="45" fill="#000"/>
<rect x="210" y="172" width="3" height="43" fill="#8b2268"/>
<rect x="214" y="215" width="5" height="84" fill="#000"/>
<rect x="215" y="216" width="3" height="82" fill="#bcbcfd"/>
<rect x="219" y="170" width="5" height="46" fill="#000"/>
<rect x="220" y="171" width="3" height="44" fill="#ffffcc"/>
<rect x="224" y="178" width="5" height="38" fill="#000"/>
<rect x="225" y="179" width="3" height="36" fill="#8b2268"/>
<rect x="229" y="215" width="5" height="79" fill="#000"/>
<rect x="230" y="216" width="3" height="77" fill="#bcbcfd"/>
<rect x="234" y="165" width="5" height="51" fill="#000"/>
<rect x="235" y="166" width="3" height="49" fill="#ffffcc"/>
<rect x="239" y="188" width="5" height="28" fill="#000"/>
<rect x="240" y="189" width="3" height="26" fill="#8b2268"/>
<rect x="244" y="215" width="5" height="72" fill="#000"/>
<rect x="245" y="216" width="3" height="70" fill="#bcbcfd"/>
<rect x="249" y="161" width="5" height="55" fill="#000"/>
<rect x="250" y="162" width="3" height="53" fill="#ffffcc"/>
<rect x="254" y="199" width="5" height="17" fill="#000"/>
<rect x="255" y="200" width="3" height="15" fill="#8b2268"/>
<rect x="258" y="215" width="5" height="54" fill="#000"/>
<rect x="259" y="216" width="3" height="52" fill="#bcbcfd"/>
<rect x="263" y="159" width="5" height="57" fill="#000"/>
<rect x="264" y="160" width="3" height="55" fill="#ffffcc"/>
<rect x="268" y="215" width="5" height="4" fill="#000"/>
<rect x="269" y="216" width="3" height="2" fill="#8b2268"/>
<rect x="273" y="215" width="5" height="69" fill="#000"/>
<rect x="274" y="216" width="3" height="67" fill="#bcbcfd"/>
<rect x="278" y="158" width="5" height="58" fill="#000"/>
<rect x="279" y="159" width="3" height="56" fill="#ffffcc"/>
<rect x="283" y="204" width="5" height="12" fill="#000"/>
<rect x="284" y="205" width="3" height="10" fill="#8b2268"/>
<rect x="288" y="215" width="5" height="46" fill="#000"/>
<rect x="289" y="216" width="3" height="44" fill="#bcbcfd"/>
<rect x="293" y="155" width="5" height="61" fill="#000"/>
<rect x="294" y="156" width="3" height="59" fill="#ffffcc"/>
<rect x="298" y="215" width="5" height="16" fill="#000"/>
<rect x="299" y="216" width="3" height="14" fill="#8b2268"/>
<rect x="303" y="215" width="5" height="17" fill="#000"/>
<rect x="304" y="216" width="3" height="15" fill="#bcbcfd"/>
<rect x="308" y="159" width="5" height="57" fill="#000"/>
<rect x="309" y="160" width="3" height="55" fill="#ffffcc"/>
<rect x="313" y="215" width="5" height="41" fill="#000"/>
<rect x="314" y="216" width="3" height="39" fill="#8b2268"/>
<rect x="318" y="215" width="5" height="27" fill="#000"/>
<rect x="319" y="216" width="3" height="25" fill="#bcbcfd"/>
<rect x="323" y="160" width="5" height="56" fill="#000"/>
<rect x="324" y="161" width="3" height="54" fill="#ffffcc"/>
<rect x="328" y="215" width="5" height="31" fill="#000"/>
<rect x="329" y="216" width="3" height="29" fill="#8b2268"/>
<rect x="333" y="215" width="5" height="9" fill="#000"/>
<rect x="334" y="216" width="3" height="7" fill="#bcbcfd"/>
<rect x="338" y="149" width="5" height="67" fill="#000"/>
<rect x="339" y="150" width="3" height="65" fill="#ffffcc"/>
<rect x="343" y="215" width="5" height="60" fill="#000"/>
<rect x="344" y="216" width="3" height="58" fill="#8b2268"/>
<rect x="348" y="215" width="5" height="53" fill="#000"/>
<rect x="349" y="216" width="3" height="51" fill="#bcbcfd"/>
<rect x="353" y="148" width="5" height="68" fill="#000"/>
<rect x="354" y="149" width="3" height="66" fill="#ffffcc"/>
<rect x="358" y="215" width="5" height="16" fill="#000"/>
<rect x="359" y="216" width="3" height="14" fill="#8b2268"/>
<rect x="363" y="215" width="5" height="34" fill="#000"/>
<rect x="364" y="216" width="3" height="32" fill="#bcbcfd"/>
<rect x="368" y="162" width="5" height="54" fill="#000"/>
<rect x="369" y="163" width="3" height="52" fill="#ffffcc"/>
<rect x="373" y="215" width="5" height="22" fill="#000"/>
<rect x="374" y="216" width="3" height="20" fill="#8b2268"/>
<rect x="378" y="215" width="5" height="34" fill="#000"/>
<rect x="379" y="216" width="3" height="32" fill="#bcbcfd"/>
<rect x="383" y="155" width="5" height="61" fill="#000"/>
<rect x="384" y="156" width="3" height="59" fill="#ffffcc"/>
<rect x="388" y="215" width="5" height="28" fill="#000"/>
<rect x="389" y="216" width="3" height="26" fill="#8b2268"/>
<rect x="392" y="215" width="5" height="3" fill="#000"/>
<rect x="393" y="216" width="3" height="1" fill="#bcbcfd"/>
<rect x="397" y="166" width="5" height="50" fill="#000"/>
<rect x="398" y="167" width="3" height="48" fill="#ffffcc"/>
<rect x="402" y="215" width="5" height="48" fill="#000"/>
<rect x="403" y="216" width="3" height="46" fill="#8b2268"/>
<rect x="407" y="181" width="5" height="35" fill="#000"/>
<rect x="408" y="182" width="3" height="33" fill="#bcbcfd"/>
<rect x="412" y="165" width="5" height="51" fill="#000"/>
<rect x="413" y="166" width="3" height="49" fill="#ffffcc"/>
<rect x="417" y="215" width="5" height="86" fill="#000"/>
<rect x="418" y="216" width="3" height="84" fill="#8b2268"/>
<rect x="422" y="155" width="5" height="61" fill="#000"/>
<rect x="423" y="156" width="3" height="59" fill="#bcbcfd"/>
<rect x="427" y="168" width="5" height="48" fill="#000"/>
<rect x="428" y="169" width="3" height="46" fill="#ffffcc"/>
<rect x="432" y="215" width="5" height="109" fill="#000"/>
<rect x="433" y="216" width="3" height="107" fill="#8b2268"/>
<rect x="437" y="138" width="5" height="78" fill="#000"/>
<rect x="438" y="139" width="3" height="76" fill="#bcbcfd"/>
<rect x="442" y="172" width="5" height="44" fill="#000"/>
<rect x="443" y="173" width="3" height="42" fill="#ffffcc"/>
<rect x="447" y="215" width="5" height="123" fill="#000"/>
<rect x="448" y="216" width="3" height="121" fill="#8b2268"/>
<rect x="452" y="79" width="5" height="137" fill="#000"/>
<rect x="453" y="80" width="3" height="135" fill="#bcbcfd"/>
<rect x="457" y="176" width="5" height="40" fill="#000"/>
<rect x="458" y="177" width="3" height="38" fill="#ffffcc"/>
<rect x="462" y="215" width="5" height="177" fill="#000"/>
<rect x="463" y="216" width="3" height="175" fill="#8b2268"/>
<rect x="467" y="51" width="5" height="165" fill="#000"/>
<rect x="468" y="52" width="3" height="163" fill="#bcbcfd"/>
<rect x="472" y="170" width="5" height="46" fill="#000"/>
<rect x="473" y="171" width="3" height="44" fill="#ffffcc"/>
<rect x="477" y="215" width="5" height="210" fill="#000"/>
<rect x="478" y="216" width="3" height="208" fill="#8b2268"/>
<rect x="482" y="57" width="5" height="159" fill="#000"/>
<rect x="483" y="58" width="3" height="157" fill="#bcbcfd"/>
<rect x="487" y="156" width="5" height="60" fill="#000"/>
<rect x="488" y="157" width="3" height="58" fill="#ffffcc"/>
<rect x="492" y="215" width="5" height="219" fill="#000"/>
<rect x="493" y="216" width="3" height="217" fill="#8b2268"/>
<rect x="497" y="69" width="5" height="147" fill="#000"/>
<rect x="498" y="70" width="3" height="145" fill="#bcbcfd"/>
<rect x="502" y="164" width="5" height="52" fill="#000"/>
<rect x="503" y="165" width="3" height="50" fill="#ffffcc"/>
<rect x="507" y="215" width="5" height="198" fill="#000"/>
<rect x="508" y="216" width="3" height="196" fill="#8b2268"/>
<rect x="511" y="50" width="5" height="166" fill="#000"/>
<rect x="512" y="51" width="3" height="164" fill="#bcbcfd"/>
<rect x="516" y="160" width="5" height="56" fill="#000"/>
<rect x="517" y="161" width="3" height="54" fill="#ffffcc"/>
<rect x="521" y="215" width="5" height="221" fill="#000"/>
<rect x="522" y="216" width="3" height="219" fill="#8b2268"/>
<rect x="526" y="42" width="5" height="174" fill="#000"/>
<rect x="527" y="43" width="3" height="172" fill="#bcbcfd"/>
<rect x="531" y="151" width="5" height="65" fill="#000"/>
<rect x="532" y="152" width="3" height="63" fill="#ffffcc"/>
<rect x="536" y="215" width="5" height="239" fill="#000"/>
<rect x="537" y="216" width="3" height="237" fill="#8b2268"/>
<rect x="541" y="54" width="5" height="162" fill="#000"/>
<rect x="542" y="55" width="3" height="160" fill="#bcbcfd"/>
<rect x="546" y="147" width="5" height="69" fill="#000"/>
<rect x="547" y="148" width="3" height="67" fill="#ffffcc"/>
<rect x="551" y="215" width="5" height="230" fill="#000"/>
<rect x="552" y="216" width="3" height="228" fill="#8b2268"/>
<rect x="556" y="63" width="5" height="153" fill="#000"/>
<rect x="557" y="64" width="3" height="151" fill="#bcbcfd"/>
<rect x="561" y="143" width="5" height="73" fill="#000"/>
<rect x="562" y="144" width="3" height="71" fill="#ffffcc"/>
<rect x="566" y="215" width="5" height="226" fill="#000"/>
<rect x="567" y="216" width="3" height="224" fill="#8b2268"/>
<rect x="571" y="38" width="5" height="178" fill="#000"/>
<rect x="572" y="39" width="3" height="176" fill="#bcbcfd"/>
<rect x="576" y="155" width="5" height="61" fill="#000"/>
<rect x="577" y="156" width="3" height="59" fill="#ffffcc"/>
<rect x="581" y="215" width="5" height="238" fill="#000"/>
<rect x="582" y="216" width="3" height="236" fill="#8b2268"/>
<rect x="586" y="116" width="5" height="100" fill="#000"/>
<rect x="587" y="117" width="3" height="98" fill="#bcbcfd"/>
<rect x="591" y="155" width="5" height="61" fill="#000"/>
<rect x="592" y="156" width="3" height="59" fill="#ffffcc"/>
<rect x="596" y="215" width="5" height="160" fill="#000"/>
<rect x="597" y="216" width="3" height="158" fill="#8b2268"/>
<rect x="601" y="133" width="5" height="83" fill="#000"/>
<rect x="602" y="134" width="3" height="81" fill="#bcbcfd"/>
<rect x="606" y="157" width="5" height="59" fill="#000"/>
<rect x="607" y="158" width="3" height="57" fill="#ffffcc"/>
<rect x="611" y="215" width="5" height="142" fill="#000"/>
<rect x="612" y="216" width="3" height="140" fill="#8b2268"/>
<rect x="616" y="144" width="5" height="72" fill="#000"/>
<rect x="617" y="145" width="3" height="70" fill="#bcbcfd"/>
<rect x="621" y="153" width="5" height="63" fill="#000"/>
<rect x="622" y="154" width="3" height="61" fill="#ffffcc"/>
<rect x="626" y="215" width="5" height="134" fill="#000"/>
<rect x="627" y="216" width="3" height="132" fill="#8b2268"/>
<rect x="631" y="136" width="5" height="80" fill="#000"/>
<rect x="632" y="137" width="3" height="78" fill="#bcbcfd"/>
<rect x="636" y="147" width="5" height="69" fill="#000"/>
<rect x="637" y="148" width="3" height="67" fill="#ffffcc"/>
<rect x="641" y="215" width="5" height="148" fill="#000"/>
<rect x="642" y="216" width="3" height="146" fill="#8b2268"/>
<rect x="645" y="164" width="5" height="52" fill="#000"/>
<rect x="646" y="165" width="3" height="50" fill="#bcbcfd"/>
<rect x="650" y="162" width="5" height="54" fill="#000"/>
<rect x="651" y="163" width="3" height="52" fill="#ffffcc"/>
<rect x="655" y="215" width="5" height="105" fill="#000"/>
<rect x="656" y="216" width="3" height="103" fill="#8b2268"/>
<rect x="660" y="165" width="5" height="51" fill="#000"/>
<rect x="661" y="166" width="3" height="49" fill="#bcbcfd"/>
<rect x="665" y="150" width="5" height="66" fill="#000"/>
<rect x="666" y="151" width="3" height="64" fill="#ffffcc"/>
<rect x="670" y="215" width="5" height="116" fill="#000"/>
<rect x="671" y="216" width="3" height="114" fill="#8b2268"/>
<rect x="675" y="197" width="5" height="19" fill="#000"/>
<rect x="676" y="198" width="3" height="17" fill="#bcbcfd"/>
<rect x="680" y="161" width="5" height="55" fill="#000"/>
<rect x="681" y="162" width="3" height="53" fill="#ffffcc"/>
<rect x="685" y="215" width="5" height="73" fill="#000"/>
<rect x="686" y="216" width="3" height="71" fill="#8b2268"/>
<rect x="695" y="154" width="5" height="62" fill="#000"/>
<rect x="696" y="155" width="3" height="60" fill="#ffffcc"/>
<rect x="700" y="215" width="5" height="62" fill="#000"/>
<rect x="701" y="216" width="3" height="60" fill="#8b2268"/>
<rect x="705" y="209" width="5" height="7" fill="#000"/>
<rect x="706" y="210" width="3" height="5" fill="#bcbcfd"/>
<rect x="710" y="157" width="5" height="59" fill="#000"/>
<rect x="711" y="158" width="3" height="57" fill="#ffffcc"/>
<rect x="715" y="215" width="5" height="66" fill="#000"/>
<rect x="716" y="216" width="3" height="64" fill="#8b2268"/>
<rect x="720" y="215" width="5" height="4" fill="#000"/>
<rect x="721" y="216" width="3" height="2" fill="#bcbcfd"/>
<rect x="725" y="162" width="5" height="54" fill="#000"/>
<rect x="726" y="163" width="3" height="52" fill="#ffffcc"/>
<rect x="730" y="215" width="5" height="52" fill="#000"/>
<rect x="731" y="216" width="3" height="50" fill="#8b2268"/>
<rect x="735" y="215" width="5" height="8" fill="#000"/>
<rect x="736" y="216" width="3" height="6" fill="#bcbcfd"/>
<rect x="740" y="170" width="5" height="46" fill="#000"/>
<rect x="741" y="171" width="3" height="44" fill="#ffffcc"/>
<rect x="745" y="215" width="5" height="40" fill="#000"/>
<rect x="746" y="216" width="3" height="38" fill="#8b2268"/>
<rect x="750" y="215" width="5" height="46" fill="#000"/>
<rect x="751" y="216" width="3" height="44" fill="#bcbcfd"/>
<rect x="755" y="155" width="5" height="61" fill="#000"/>
<rect x="756" y="156" width="3" height="59" fill="#ffffcc"/>
<rect x="760" y="215" width="5" height="17" fill="#000"/>
<rect x="761" y="216" width="3" height="15" fill="#8b2268"/>
<rect x="765" y="215" width="5" height="69" fill="#000"/>
<rect x="766" y="216" width="3" height="67" fill="#bcbcfd"/>
<rect x="770" y="151" width="5" height="65" fill="#000"/>
<rect x="771" y="152" width="3" height="63" fill="#ffffcc"/>
<rect x="775" y="212" width="5" height="4" fill="#000"/>
<rect x="776" y="213" width="3" height="2" fill="#8b2268"/>
<rect x="779" y="215" width="5" height="27" fill="#000"/>
<rect x="780" y="216" width="3" height="25" fill="#bcbcfd"/>
<rect x="784" y="152" width="5" height="64" fill="#000"/>
<rect x="785" y="153" width="3" height="62" fill="#ffffcc"/>
<rect x="789" y="215" width="5" height="39" fill="#000"/>
<rect x="790" y="216" width="3" height="37" fill="#8b2268"/>
<rect x="794" y="207" width="5" height="9" fill="#000"/>
<rect x="795" y="208" width="3" height="7" fill="#bcbcfd"/>
<rect x="799" y="147" width="5" height="69" fill="#000"/>
<rect x="800" y="148" width="3" height="67" fill="#ffffcc"/>
<rect x="804" y="215" width="5" height="78" fill="#000"/>
<rect x="805" y="216" width="3" height="76" fill="#8b2268"/>
<rect x="809" y="171" width="5" height="45" fill="#000"/>
<rect x="810" y="172" width="3" height="43" fill="#bcbcfd"/>
<rect x="814" y="155" width="5" height="61" fill="#000"/>
<rect x="815" y="156" width="3" height="59" fill="#ffffcc"/>
<rect x="819" y="215" width="5" height="106" fill="#000"/>
<rect x="820" y="216" width="3" height="104" fill="#8b2268"/>
<rect x="824" y="122" width="5" height="94" fill="#000"/>
<rect x="825" y="123" width="3" height="92" fill="#bcbcfd"/>
<rect x="829" y="145" width="5" height="71" fill="#000"/>
<rect x="830" y="146" width="3" height="69" fill="#ffffcc"/>
<rect x="834" y="215" width="5" height="164" fill="#000"/>
<rect x="835" y="216" width="3" height="162" fill="#8b2268"/>
<rect x="50" y="215" width="790" height="1" fill="#000"/>
<rect x="50" y="33" width="1" height="426" fill="#000"/>
<rect x="839" y="33" width="1" height="426" fill="#000"/>
<rect x="50" y="458" width="790" height="1" fill="#000"/>
<rect x="65" y="453" width="1" height="5" fill="#000"/>
<rect x="80" y="453" width="1" height="5" fill="#000"/>
<rect x="95" y="453" width="1" height="5" fill="#000"/>
<rect x="110" y="453" width="1" height="5" fill="#000"/>
<rect x="124" y="453" width="1" height="5" fill="#000"/>
<rect x="139" y="453" width="1" height="5" fill="#000"/>
<rect x="154" y="453" width="1" height="5" fill="#000"/>
<rect x="169" y="453" width="1" height="5" fill="#000"/>
<rect x="184" y="453" width="1" height="5" fill="#000"/>
<rect x="199" y="453" width="1" height="5" fill="#000"/>
<rect x="214" y="453" width="1" height="5" fill="#000"/>
<rect x="229" y="453" width="1" height="5" fill="#000"/>
<rect x="244" y="453" width="1" height="5" fill="#000"/>
<rect x="258" y="453" width="1" height="5" fill="#000"/>
<rect x="273" y="453" width="1" height="5" fill="#000"/>
<rect x="288" y="453" width="1" height="5" fill="#000"/>
<rect x="303" y="453" width="1" height="5" fill="#000"/>
<rect x="318" y="453" width="1" height="5" fill="#000"/>
<rect x="333" y="453" width="1" height="5" fill="#000"/>
<rect x="348" y="453" width="1" height="5" fill="#000"/>
<rect x="363" y="453" width="1" height="5" fill="#000"/>
<rect x="378" y="453" width="1" height="5" fill="#000"/>
<rect x="392" y="453" width="1" height="5" fill="#000"/>
<rect x="407" y="453" width="1" height="5" fill="#000"/>
<rect x="422" y="453" width="1" height="5" fill="#000"/>
<rect x="437" y="453" width="1" height="5" fill="#000"/>
<rect x="452" y="453" width="1" height="5" fill="#000"/>
<rect x="467" y="453" width="1" height="5" fill="#000"/>
<rect x="482" y="453" width="1" height="5" fill="#000"/>
<rect x="497" y="453" width="1" height="5" fill="#000"/>
<rect x="511" y="453" width="1" height="5" fill="#000"/>
<rect x="526" y="453" width="1" height="5" fill="#000"/>
<rect x="541" y="453" width="1" height="5" fill="#000"/>
<rect x="556" y="453" width="1" height="5" fill="#000"/>
<rect x="571" y="453" width="1" height="5" fill="#000"/>
<rect x="586" y="453" width="1" height="5" fill="#000"/>
<rect x="601" y="453" width="1" height="5" fill="#000"/>
<rect x="616" y="453" width="1" height="5" fill="#000"/>
<rect x="631" y="453" width="1" height="5" fill="#000"/>
<rect x="645" y="453" width="1" height="5" fill="#000"/>
<rect x="660" y="453" width="1" height="5" fill="#000"/>
<rect x="675" y="453" width="1" height="5" fill="#000"/>
<rect x="690" y="453" width="1" height="5" fill="#000"/>
<rect x="705" y="453" width="1" height="5" fill="#000"/>
<rect x="720" y="453" width="1" height="5" fill="#000"/>
<rect x="735" y="453" width="1" height="5" fill="#000"/>
<rect x="750" y="453" width="1" height="5" fill="#000"/>
<rect x="765" y="453" width="1" height="5" fill="#000"/>
<rect x="779" y="453" width="1" height="5" fill="#000"/>
<rect x="794" y="453" width="1" height="5" fill="#000"/>
<rect x="809" y="453" width="1" height="5" fill="#000"/>
<rect x="824" y="453" width="1" height="5" fill="#000"/>
<rect x="50" y="33" width="6" height="1" fill="#000"/>
<rect x="50" y="63" width="4" height="1" fill="#000"/>
<rect x="50" y="94" width="6" height="1" fill="#000"/>
<rect x="50" y="124" width="4" height="1" fill="#000"/>
<rect x="50" y="154" width="6" height="1" fill="#000"/>
<rect x="50" y="185" width="4" height="1" fill="#000"/>
<rect x="50" y="215" width="6" height="1" fill="#000"/>
<rect x="50" y="245" width="4" height="1" fill="#000"/>
<rect x="50" y="276" width="6" height="1" fill="#000"/>
<rect x="50" y="306" width="4" height="1" fill="#000"/>
<rect x="50" y="337" width="6" height="1" fill="#000"/>
<rect x="50" y="367" width="4" height="1" fill="#000"/>
<rect x="50" y="397" width="6" height="1" fill="#000"/>
<rect x="50" y="428" width="4" height="1" fill="#000"/>
<rect x="50" y="458" width="6" height="1" fill="#000"/>
<rect x="834" y="33" width="6" height="1" fill="#000"/>
<rect x="836" y="39" width="4" height="1" fill="#000"/>
<rect x="836" y="44" width="4" height="1" fill="#000"/>
<rect x="836" y="50" width="4" height="1" fill="#000"/>
<rect x="836" y="56" width="4" height="1" fill="#000"/>
<rect x="834" y="61" width="6" height="1" fill="#000"/>
<rect x="836" y="67" width="4" height="1" fill="#000"/>
<rect x="836" y="73" width="4" height="1" fill="#000"/>
<rect x="836" y="78" width="4" height="1" fill="#000"/>
<rect x="836" y="84" width="4" height="1" fill="#000"/>
<rect x="834" y="90" width="6" height="1" fill="#000"/>
<rect x="836" y="95" width="4" height="1" fill="#000"/>
<rect x="836" y="101" width="4" height="1" fill="#000"/>
<rect x="836" y="107" width="4" height="1" fill="#000"/>
<rect x="836" y="112" width="4" height="1" fill="#000"/>
<rect x="834" y="118" width="6" height="1" fill="#000"/>
<rect x="836" y="124" width="4" height="1" fill="#000"/>
<rect x="836" y="129" width="4" height="1" fill="#000"/>
<rect x="836" y="135" width="4" height="1" fill="#000"/>
<rect x="836" y="141" width="4" height="1" fill="#000"/>
<rect x="834" y="146" width="6" height="1" fill="#000"/>
<rect x="836" y="152" width="4" height="1" fill="#000"/>
<rect x="836" y="158" width="4" height="1" fill="#000"/>
<rect x="836" y="163" width="4" height="1" fill="#000"/>
<rect x="836" y="169" width="4" height="1" fill="#000"/>
<rect x="834" y="175" width="6" height="1" fill="#000"/>
<rect x="836" y="180" width="4" height="1" fill="#000"/>
<rect x="836" y="186" width="4" height="1" fill="#000"/>
<rect x="836" y="192" width="4" height="1" fill="#000"/>
<rect x="836" y="197" width="4" height="1" fill="#000"/>
<rect x="834" y="203" width="6" height="1" fill="#000"/>
<rect x="836" y="209" width="4" height="1" fill="#000"/>
<rect x="836" y="214" width="4" height="1" fill="#000"/>
<rect x="836" y="220" width="4" height="1" fill="#000"/>
<rect x="836" y="226" width="4" height="1" fill="#000"/>
<rect x="834" y="231" width="6" height="1" fill="#000"/>
<rect x="836" y="237" width="4" height="1" fill="#000"/>
<rect x="836" y="243" width="4" height="1" fill="#000"/>
<rect x="836" y="248" width="4" height="1" fill="#000"/>
<rect x="836" y="254" width="4" height="1" fill="#000"/>
<rect x="834" y="260" width="6" height="1" fill="#000"/>
<rect x="836" y="265" width="4" height="1" fill="#000"/>
<rect x="836" y="271" width="4" height="1" fill="#000"/>
<rect x="836" y="277" width="4" height="1" fill="#000"/>
<rect x="836" y="282" width="4" height="1" fill="#000"/>
<rect x="834" y="288" width="6" height="1" fill="#000"/>
<rect x="836" y="294" width="4" height="1" fill="#000"/>
<rect x="836" y="299" width="4" height="1" fill="#000"/>
<rect x="836" y="305" width="4" height="1" fill="#000"/>
<rect x="836" y="311" width="4" height="1" fill="#000"/>
<rect x="834" y="316" width="6" height="1" fill="#000"/>
<rect x="836" y="322" width="4" height="1" fill="#000"/>
<rect x="836" y="328" width="4" height="1" fill="#000"/>
<rect x="836" y="333" width="4" height="1" fill="#000"/>
<rect x="836" y="339" width="4" height="1" fill="#000"/>
<rect x="834" y="345" width="6" height="1" fill="#000"/>
<rect x="836" y="350" width="4" height="1" fill="#000"/>
<rect x="836" y="356" width="4" height="1" fill="#000"/>
<rect x="836" y="362" width="4" height="1" fill="#000"/>
<rect x="836" y="367" width="4" height="1" fill="#000"/>
<rect x="834" y="373" width="6" height="1" fill="#000"/>
<rect x="836" y="379" width="4" height="1" fill="#000"/>
<rect x="836" y="384" width="4" height="1" fill="#000"/>
<rect x="836" y="390" width="4" height="1" fill="#000"/>
<rect x="836" y="396" width="4" height="1" fill="#000"/>
<rect x="834" y="401" width="6" height="1" fill="#000"/>
<rect x="836" y="407" width="4" height="1" fill="#000"/>
<rect x="836" y="413" width="4" height="1" fill="#000"/>
<rect x="836" y="418" width="4" height="1" fill="#000"/>
<rect x="836" y="424" width="4" height="1" fill="#000"/>
<rect x="834" y="430" width="6" height="1" fill="#000"/>
<rect x="836" y="435" width="4" height="1" fill="#000"/>
<rect x="836" y="441" width="4" height="1" fill="#000"/>
<rect x="836" y="447" width="4" height="1" fill="#000"/>
<rect x="836" y="452" width="4" height="1" fill="#000"/>
<rect x="834" y="458" width="6" height="1" fill="#000"/>
</g>
<text x="42.5" y="37.1" font-size="11.3" fill="#111" text-anchor="end" textLength="33.6" lengthAdjust="spacingAndGlyphs" >60000</text>
<text x="42.5" y="97.8" font-size="11.3" fill="#111" text-anchor="end" textLength="33.6" lengthAdjust="spacingAndGlyphs" >40000</text>
<text x="42.5" y="158.5" font-size="11.3" fill="#111" text-anchor="end" textLength="33.6" lengthAdjust="spacingAndGlyphs" >20000</text>
<text x="42.3" y="219.2" font-size="11.3" fill="#111" text-anchor="end" >0</text>
<text x="42.5" y="279.9" font-size="11.3" fill="#111" text-anchor="end" textLength="38.3" lengthAdjust="spacingAndGlyphs" >-20000</text>
<text x="42.5" y="340.6" font-size="11.3" fill="#111" text-anchor="end" textLength="38.3" lengthAdjust="spacingAndGlyphs" >-40000</text>
<text x="42.5" y="401.3" font-size="11.3" fill="#111" text-anchor="end" textLength="38.3" lengthAdjust="spacingAndGlyphs" >-60000</text>
<text x="42.5" y="462.1" font-size="11.3" fill="#111" text-anchor="end" textLength="38.3" lengthAdjust="spacingAndGlyphs" >-80000</text>
<text x="846.8" y="37.1" font-size="11.3" fill="#2b9c2b" text-anchor="start" textLength="40.3" lengthAdjust="spacingAndGlyphs" >245000</text>
<text x="846.8" y="65.4" font-size="11.3" fill="#2b9c2b" text-anchor="start" textLength="40.3" lengthAdjust="spacingAndGlyphs" >240000</text>
<text x="846.8" y="93.8" font-size="11.3" fill="#2b9c2b" text-anchor="start" textLength="40.3" lengthAdjust="spacingAndGlyphs" >235000</text>
<text x="846.8" y="122.1" font-size="11.3" fill="#2b9c2b" text-anchor="start" textLength="40.3" lengthAdjust="spacingAndGlyphs" >230000</text>
<text x="846.8" y="150.4" font-size="11.3" fill="#2b9c2b" text-anchor="start" textLength="40.3" lengthAdjust="spacingAndGlyphs" >225000</text>
<text x="846.8" y="178.8" font-size="11.3" fill="#2b9c2b" text-anchor="start" textLength="40.3" lengthAdjust="spacingAndGlyphs" >220000</text>
<text x="846.8" y="207.1" font-size="11.3" fill="#2b9c2b" text-anchor="start" textLength="40.3" lengthAdjust="spacingAndGlyphs" >215000</text>
<text x="846.8" y="235.4" font-size="11.3" fill="#2b9c2b" text-anchor="start" textLength="40.3" lengthAdjust="spacingAndGlyphs" >210000</text>
<text x="846.8" y="263.8" font-size="11.3" fill="#2b9c2b" text-anchor="start" textLength="40.3" lengthAdjust="spacingAndGlyphs" >205000</text>
<text x="846.8" y="292.1" font-size="11.3" fill="#2b9c2b" text-anchor="start" textLength="40.3" lengthAdjust="spacingAndGlyphs" >200000</text>
<text x="846.8" y="320.4" font-size="11.3" fill="#2b9c2b" text-anchor="start" textLength="40.3" lengthAdjust="spacingAndGlyphs" >195000</text>
<text x="846.8" y="348.8" font-size="11.3" fill="#2b9c2b" text-anchor="start" textLength="40.3" lengthAdjust="spacingAndGlyphs" >190000</text>
<text x="846.8" y="377.1" font-size="11.3" fill="#2b9c2b" text-anchor="start" textLength="40.3" lengthAdjust="spacingAndGlyphs" >185000</text>
<text x="846.8" y="405.4" font-size="11.3" fill="#2b9c2b" text-anchor="start" textLength="40.3" lengthAdjust="spacingAndGlyphs" >180000</text>
<text x="846.8" y="433.8" font-size="11.3" fill="#2b9c2b" text-anchor="start" textLength="40.3" lengthAdjust="spacingAndGlyphs" >175000</text>
<text x="846.8" y="462.1" font-size="11.3" fill="#2b9c2b" text-anchor="start" textLength="40.3" lengthAdjust="spacingAndGlyphs" >170000</text>
<text transform="translate(50.8,461.9) rotate(-64)" x="0" y="0" font-size="8.3" fill="#000" text-anchor="end" textLength="37.5" lengthAdjust="spacing" dominant-baseline="hanging">06/26/18</text>
<text transform="translate(65.0,462.6) rotate(-64)" x="0" y="0" font-size="8.3" fill="#000" text-anchor="end" textLength="37.5" lengthAdjust="spacing" dominant-baseline="hanging">07/03/18</text>
<text transform="translate(79.9,462.6) rotate(-64)" x="0" y="0" font-size="8.3" fill="#000" text-anchor="end" textLength="37.5" lengthAdjust="spacing" dominant-baseline="hanging">07/10/18</text>
<text transform="translate(94.8,462.6) rotate(-64)" x="0" y="0" font-size="8.3" fill="#000" text-anchor="end" textLength="37.5" lengthAdjust="spacing" dominant-baseline="hanging">07/17/18</text>
<text transform="translate(109.6,462.6) rotate(-64)" x="0" y="0" font-size="8.3" fill="#000" text-anchor="end" textLength="37.5" lengthAdjust="spacing" dominant-baseline="hanging">07/24/18</text>
<text transform="translate(124.5,462.6) rotate(-64)" x="0" y="0" font-size="8.3" fill="#000" text-anchor="end" textLength="37.5" lengthAdjust="spacing" dominant-baseline="hanging">07/31/18</text>
<text transform="translate(139.4,462.6) rotate(-64)" x="0" y="0" font-size="8.3" fill="#000" text-anchor="end" textLength="37.5" lengthAdjust="spacing" dominant-baseline="hanging">08/07/18</text>
<text transform="translate(154.3,462.6) rotate(-64)" x="0" y="0" font-size="8.3" fill="#000" text-anchor="end" textLength="37.5" lengthAdjust="spacing" dominant-baseline="hanging">08/14/18</text>
<text transform="translate(169.2,462.6) rotate(-64)" x="0" y="0" font-size="8.3" fill="#000" text-anchor="end" textLength="37.5" lengthAdjust="spacing" dominant-baseline="hanging">08/21/18</text>
<text transform="translate(184.1,462.6) rotate(-64)" x="0" y="0" font-size="8.3" fill="#000" text-anchor="end" textLength="37.5" lengthAdjust="spacing" dominant-baseline="hanging">08/28/18</text>
<text transform="translate(199.0,462.6) rotate(-64)" x="0" y="0" font-size="8.3" fill="#000" text-anchor="end" textLength="37.5" lengthAdjust="spacing" dominant-baseline="hanging">09/04/18</text>
<text transform="translate(213.9,462.6) rotate(-64)" x="0" y="0" font-size="8.3" fill="#000" text-anchor="end" textLength="37.5" lengthAdjust="spacing" dominant-baseline="hanging">09/11/18</text>
<text transform="translate(228.7,462.6) rotate(-64)" x="0" y="0" font-size="8.3" fill="#000" text-anchor="end" textLength="37.5" lengthAdjust="spacing" dominant-baseline="hanging">09/18/18</text>
<text transform="translate(243.6,462.6) rotate(-64)" x="0" y="0" font-size="8.3" fill="#000" text-anchor="end" textLength="37.5" lengthAdjust="spacing" dominant-baseline="hanging">09/25/18</text>
<text transform="translate(258.5,462.6) rotate(-64)" x="0" y="0" font-size="8.3" fill="#000" text-anchor="end" textLength="37.5" lengthAdjust="spacing" dominant-baseline="hanging">10/02/18</text>
<text transform="translate(273.4,462.6) rotate(-64)" x="0" y="0" font-size="8.3" fill="#000" text-anchor="end" textLength="37.5" lengthAdjust="spacing" dominant-baseline="hanging">10/09/18</text>
<text transform="translate(288.3,462.6) rotate(-64)" x="0" y="0" font-size="8.3" fill="#000" text-anchor="end" textLength="37.5" lengthAdjust="spacing" dominant-baseline="hanging">10/16/18</text>
<text transform="translate(303.2,462.6) rotate(-64)" x="0" y="0" font-size="8.3" fill="#000" text-anchor="end" textLength="37.5" lengthAdjust="spacing" dominant-baseline="hanging">10/23/18</text>
<text transform="translate(318.1,462.6) rotate(-64)" x="0" y="0" font-size="8.3" fill="#000" text-anchor="end" textLength="37.5" lengthAdjust="spacing" dominant-baseline="hanging">10/30/18</text>
<text transform="translate(332.9,462.6) rotate(-64)" x="0" y="0" font-size="8.3" fill="#000" text-anchor="end" textLength="37.5" lengthAdjust="spacing" dominant-baseline="hanging">11/06/18</text>
<text transform="translate(347.8,462.6) rotate(-64)" x="0" y="0" font-size="8.3" fill="#000" text-anchor="end" textLength="37.5" lengthAdjust="spacing" dominant-baseline="hanging">11/13/18</text>
<text transform="translate(362.7,462.6) rotate(-64)" x="0" y="0" font-size="8.3" fill="#000" text-anchor="end" textLength="37.5" lengthAdjust="spacing" dominant-baseline="hanging">11/20/18</text>
<text transform="translate(377.6,462.6) rotate(-64)" x="0" y="0" font-size="8.3" fill="#000" text-anchor="end" textLength="37.5" lengthAdjust="spacing" dominant-baseline="hanging">11/27/18</text>
<text transform="translate(392.5,462.6) rotate(-64)" x="0" y="0" font-size="8.3" fill="#000" text-anchor="end" textLength="37.5" lengthAdjust="spacing" dominant-baseline="hanging">12/04/18</text>
<text transform="translate(407.4,462.6) rotate(-64)" x="0" y="0" font-size="8.3" fill="#000" text-anchor="end" textLength="37.5" lengthAdjust="spacing" dominant-baseline="hanging">12/11/18</text>
<text transform="translate(422.3,462.6) rotate(-64)" x="0" y="0" font-size="8.3" fill="#000" text-anchor="end" textLength="37.5" lengthAdjust="spacing" dominant-baseline="hanging">12/18/18</text>
<text transform="translate(437.2,462.6) rotate(-64)" x="0" y="0" font-size="8.3" fill="#000" text-anchor="end" textLength="37.5" lengthAdjust="spacing" dominant-baseline="hanging">12/24/18</text>
<text transform="translate(452.0,462.6) rotate(-64)" x="0" y="0" font-size="8.3" fill="#000" text-anchor="end" textLength="37.5" lengthAdjust="spacing" dominant-baseline="hanging">12/31/18</text>
<text transform="translate(466.9,462.6) rotate(-64)" x="0" y="0" font-size="8.3" fill="#000" text-anchor="end" textLength="37.5" lengthAdjust="spacing" dominant-baseline="hanging">01/08/19</text>
<text transform="translate(481.8,462.6) rotate(-64)" x="0" y="0" font-size="8.3" fill="#000" text-anchor="end" textLength="37.5" lengthAdjust="spacing" dominant-baseline="hanging">01/15/19</text>
<text transform="translate(496.7,462.6) rotate(-64)" x="0" y="0" font-size="8.3" fill="#000" text-anchor="end" textLength="37.5" lengthAdjust="spacing" dominant-baseline="hanging">01/22/19</text>
<text transform="translate(511.6,462.6) rotate(-64)" x="0" y="0" font-size="8.3" fill="#000" text-anchor="end" textLength="37.5" lengthAdjust="spacing" dominant-baseline="hanging">01/29/19</text>
<text transform="translate(526.5,462.6) rotate(-64)" x="0" y="0" font-size="8.3" fill="#000" text-anchor="end" textLength="37.5" lengthAdjust="spacing" dominant-baseline="hanging">02/05/19</text>
<text transform="translate(541.4,462.6) rotate(-64)" x="0" y="0" font-size="8.3" fill="#000" text-anchor="end" textLength="37.5" lengthAdjust="spacing" dominant-baseline="hanging">02/12/19</text>
<text transform="translate(556.3,462.6) rotate(-64)" x="0" y="0" font-size="8.3" fill="#000" text-anchor="end" textLength="37.5" lengthAdjust="spacing" dominant-baseline="hanging">02/19/19</text>
<text transform="translate(571.1,462.6) rotate(-64)" x="0" y="0" font-size="8.3" fill="#000" text-anchor="end" textLength="37.5" lengthAdjust="spacing" dominant-baseline="hanging">02/26/19</text>
<text transform="translate(586.0,462.6) rotate(-64)" x="0" y="0" font-size="8.3" fill="#000" text-anchor="end" textLength="37.5" lengthAdjust="spacing" dominant-baseline="hanging">03/05/19</text>
<text transform="translate(600.9,462.6) rotate(-64)" x="0" y="0" font-size="8.3" fill="#000" text-anchor="end" textLength="37.5" lengthAdjust="spacing" dominant-baseline="hanging">03/12/19</text>
<text transform="translate(615.8,462.6) rotate(-64)" x="0" y="0" font-size="8.3" fill="#000" text-anchor="end" textLength="37.5" lengthAdjust="spacing" dominant-baseline="hanging">03/19/19</text>
<text transform="translate(630.7,462.6) rotate(-64)" x="0" y="0" font-size="8.3" fill="#000" text-anchor="end" textLength="37.5" lengthAdjust="spacing" dominant-baseline="hanging">03/26/19</text>
<text transform="translate(645.6,462.6) rotate(-64)" x="0" y="0" font-size="8.3" fill="#000" text-anchor="end" textLength="37.5" lengthAdjust="spacing" dominant-baseline="hanging">04/02/19</text>
<text transform="translate(660.5,462.6) rotate(-64)" x="0" y="0" font-size="8.3" fill="#000" text-anchor="end" textLength="37.5" lengthAdjust="spacing" dominant-baseline="hanging">04/09/19</text>
<text transform="translate(675.3,462.6) rotate(-64)" x="0" y="0" font-size="8.3" fill="#000" text-anchor="end" textLength="37.5" lengthAdjust="spacing" dominant-baseline="hanging">04/16/19</text>
<text transform="translate(690.2,462.6) rotate(-64)" x="0" y="0" font-size="8.3" fill="#000" text-anchor="end" textLength="37.5" lengthAdjust="spacing" dominant-baseline="hanging">04/23/19</text>
<text transform="translate(705.1,462.6) rotate(-64)" x="0" y="0" font-size="8.3" fill="#000" text-anchor="end" textLength="37.5" lengthAdjust="spacing" dominant-baseline="hanging">04/30/19</text>
<text transform="translate(720.0,462.6) rotate(-64)" x="0" y="0" font-size="8.3" fill="#000" text-anchor="end" textLength="37.5" lengthAdjust="spacing" dominant-baseline="hanging">05/07/19</text>
<text transform="translate(734.9,462.6) rotate(-64)" x="0" y="0" font-size="8.3" fill="#000" text-anchor="end" textLength="37.5" lengthAdjust="spacing" dominant-baseline="hanging">05/14/19</text>
<text transform="translate(749.8,462.6) rotate(-64)" x="0" y="0" font-size="8.3" fill="#000" text-anchor="end" textLength="37.5" lengthAdjust="spacing" dominant-baseline="hanging">05/21/19</text>
<text transform="translate(764.7,462.6) rotate(-64)" x="0" y="0" font-size="8.3" fill="#000" text-anchor="end" textLength="37.5" lengthAdjust="spacing" dominant-baseline="hanging">05/28/19</text>
<text transform="translate(779.6,462.6) rotate(-64)" x="0" y="0" font-size="8.3" fill="#000" text-anchor="end" textLength="37.5" lengthAdjust="spacing" dominant-baseline="hanging">06/04/19</text>
<text transform="translate(794.4,462.6) rotate(-64)" x="0" y="0" font-size="8.3" fill="#000" text-anchor="end" textLength="37.5" lengthAdjust="spacing" dominant-baseline="hanging">06/11/19</text>
<text transform="translate(809.3,462.6) rotate(-64)" x="0" y="0" font-size="8.3" fill="#000" text-anchor="end" textLength="37.5" lengthAdjust="spacing" dominant-baseline="hanging">06/18/19</text>
<text transform="translate(824.2,462.6) rotate(-64)" x="0" y="0" font-size="8.3" fill="#000" text-anchor="end" textLength="37.5" lengthAdjust="spacing" dominant-baseline="hanging">06/25/19</text>
<text x="0.8" y="7.3" font-size="9.3" fill="#000" text-anchor="start" textLength="88.0" lengthAdjust="spacingAndGlyphs" font-weight="bold" stroke="#000" stroke-width="0.25">(SI,comex-cec)</text>
<text x="94.4" y="7.3" font-size="9.3" fill="#000" text-anchor="start" textLength="49.7" lengthAdjust="spacingAndGlyphs" font-weight="bold" stroke="#000" stroke-width="0.25">Silver,NY</text>
<text x="0.8" y="16.2" font-size="9.3" fill="#000" text-anchor="start" textLength="215.2" lengthAdjust="spacingAndGlyphs" font-weight="bold" stroke="#000" stroke-width="0.25">Net Commitments of Futures Traders</text>
<g shape-rendering="crispEdges">
<rect x="507" y="-1" width="390" height="25" fill="#d4d4d4" stroke="none"/>
<rect x="507" y="0" width="382" height="1" fill="#7f7f7f"/>
<rect x="507" y="23" width="382" height="1" fill="#7f7f7f"/>
<rect x="507" y="0" width="1" height="24" fill="#7f7f7f"/>
<rect x="513" y="11" width="7" height="7" fill="#808080"/>
<rect x="514" y="12" width="5" height="5" fill="#bcbcfd"/>
<rect x="605" y="11" width="7" height="7" fill="#808080"/>
<rect x="606" y="12" width="5" height="5" fill="#ffffcc"/>
<rect x="698" y="11" width="7" height="7" fill="#808080"/>
<rect x="699" y="12" width="5" height="5" fill="#8b2268"/>
<rect x="794" y="14" width="9" height="2" fill="#2b9c2b"/>
</g>
<text x="530.4" y="16.7" font-size="11.3" fill="#000" text-anchor="start" textLength="58.5" lengthAdjust="spacingAndGlyphs" >Large Spec</text>
<text x="622.6" y="16.7" font-size="11.3" fill="#000" text-anchor="start" textLength="58.7" lengthAdjust="spacingAndGlyphs" >Small Spec</text>
<text x="715.3" y="16.7" font-size="11.3" fill="#000" text-anchor="start" textLength="64.2" lengthAdjust="spacingAndGlyphs" >Commercial</text>
<text x="812.7" y="16.7" font-size="11.3" fill="#000" text-anchor="start" textLength="69.8" lengthAdjust="spacingAndGlyphs" >Open Interest</text>
<text x="156.2" y="521.0" font-size="15.0" fill="#0cf70c" text-anchor="start" textLength="235.8" lengthAdjust="spacingAndGlyphs" >Charts compiled by Software North</text>
<text x="403.9" y="521.0" font-size="15.0" fill="#0cf70c" text-anchor="start" textLength="325.9" lengthAdjust="spacingAndGlyphs" >http://cotpricecharts.com/commitmentscurrent/</text>
<text class="m" transform="translate(5,540) scale(0.82,1)" x="0.00 7.32 14.63 21.95 29.27 36.59 43.90 51.22 58.54 65.85 73.17 80.49 87.80 95.12 102.44 109.76 117.07 124.39 131.71 139.02 146.34 153.66 160.98 168.29 175.61 182.93 190.24 197.56 204.88 212.20 219.51 226.83 234.15 241.46 248.78 256.10 263.41 270.73 278.05 285.37 292.68 300.00 307.32 314.63 321.95 329.27 336.59 343.90 351.22 358.54 365.85 373.17 380.49 387.80 395.12 402.44 409.76 417.07 424.39 431.71 439.02 446.34 453.66 460.98 468.29 475.61 482.93 490.24 497.56 504.88 512.20 519.51 526.83 534.15 541.46 548.78 556.10 563.41 570.73 578.05 585.37 592.68 600.00 607.32 614.63 621.95 629.27 636.59 643.90 651.22 658.54 665.85 673.17 680.49 687.80 695.12 702.44 709.76 717.07 724.39 731.71 739.02 746.34 753.66 760.98 768.29 775.61 782.93 790.24 797.56" y="0" font-size="12.2" fill="#000" stroke="#000" stroke-width="0.2" xml:space="preserve" style="white-space:pre">           --- Large Speculators ---       ------ Commercial ------         -- Small Speculators --       Open</text>
<text class="m" transform="translate(5,553) scale(0.82,1)" x="0.00 7.32 14.63 21.95 29.27 36.59 43.90 51.22 58.54 65.85 73.17 80.49 87.80 95.12 102.44 109.76 117.07 124.39 131.71 139.02 146.34 153.66 160.98 168.29 175.61 182.93 190.24 197.56 204.88 212.20 219.51 226.83 234.15 241.46 248.78 256.10 263.41 270.73 278.05 285.37 292.68 300.00 307.32 314.63 321.95 329.27 336.59 343.90 351.22 358.54 365.85 373.17 380.49 387.80 395.12 402.44 409.76 417.07 424.39 431.71 439.02 446.34 453.66 460.98 468.29 475.61 482.93 490.24 497.56 504.88 512.20 519.51 526.83 534.15 541.46 548.78 556.10 563.41 570.73 578.05 585.37 592.68 600.00 607.32 614.63 621.95 629.27 636.59 643.90 651.22 658.54 665.85 673.17 680.49 687.80 695.12 702.44 709.76 717.07 724.39 731.71 739.02 746.34 753.66 760.98 768.29 775.61 782.93 790.24 797.56" y="0" font-size="12.2" fill="#000" stroke="#000" stroke-width="0.2" xml:space="preserve" style="white-space:pre">           #      Long     Short Bullish   #      Long     Short Bullish      Long     Short Bullish   Intrest</text>
<text class="m" transform="translate(5,566) scale(0.82,1)" x="-0.12 7.32 14.63 21.95 29.27 36.59 43.90 51.22 58.54 65.85 73.17 80.37 87.80 95.12 102.44 109.76 117.07 124.39 131.71 139.02 146.34 153.66 160.98 168.29 175.61 182.93 190.24 197.56 204.88 212.07 219.51 226.83 234.15 241.46 248.78 256.10 263.41 270.73 278.05 285.37 292.68 300.00 307.32 314.63 321.95 329.27 336.59 343.90 351.22 358.54 365.85 373.05 380.49 387.80 395.12 402.44 409.76 417.07 424.39 431.71 439.02 446.34 453.66 460.98 468.29 475.61 482.93 490.12 497.56 504.88 512.20 519.51 526.83 534.15 541.46 548.78 556.10 563.41 570.73 578.05 585.37 592.68 600.00 607.32 614.63 621.95 629.27 636.59 643.90 651.22 658.54 665.85 673.17 680.49 687.80 695.12 702.44 709.76 717.07 724.39 731.71 739.02 746.34 753.66 760.98 768.29 775.61 782.93 790.12 797.56" y="0" font-size="12.2" fill="#000" stroke="#000" stroke-width="0.2" xml:space="preserve" style="white-space:pre"><tspan font-family='"Liberation Sans", sans-serif'>0</tspan>5/28/19 23<tspan font-family='"Liberation Sans", sans-serif'>0</tspan>    73,663    96,<tspan font-family='"Liberation Sans", sans-serif'>0</tspan>72  43%     84    87,<tspan font-family='"Liberation Sans", sans-serif'>0</tspan>83    85,968  5<tspan font-family='"Liberation Sans", sans-serif'>0</tspan>%        35741    14,447  71%      217,6<tspan font-family='"Liberation Sans", sans-serif'>0</tspan>5</text>
<text class="m" transform="translate(5,579) scale(0.82,1)" x="-0.12 7.32 14.63 21.83 29.27 36.59 43.90 51.22 58.54 65.85 73.17 80.49 87.80 95.12 102.44 109.76 117.07 124.39 131.71 139.02 146.34 153.66 160.98 168.29 175.61 182.93 190.24 197.56 204.88 212.07 219.51 226.83 234.15 241.46 248.78 256.10 263.41 270.73 278.05 285.37 292.68 300.00 307.32 314.51 321.95 329.27 336.59 343.90 351.22 358.54 365.85 373.17 380.49 387.80 395.12 402.44 409.76 417.07 424.39 431.71 439.02 446.34 453.66 460.98 468.29 475.61 482.93 490.24 497.56 504.88 512.20 519.51 526.83 534.15 541.46 548.78 556.10 563.41 570.73 577.93 585.37 592.68 600.00 607.32 614.63 621.95 629.27 636.59 643.90 651.22 658.54 665.85 673.17 680.49 687.80 695.12 702.44 709.76 717.07 724.39 731.71 739.02 746.34 753.66 760.98 768.29 775.61 782.93 790.24 797.56" y="0" font-size="12.2" fill="#000" stroke="#000" stroke-width="0.2" xml:space="preserve" style="white-space:pre"><tspan font-family='"Liberation Sans", sans-serif'>0</tspan>6/<tspan font-family='"Liberation Sans", sans-serif'>0</tspan>4/19 218    76,653    85,<tspan font-family='"Liberation Sans", sans-serif'>0</tspan>96  47%     9<tspan font-family='"Liberation Sans", sans-serif'>0</tspan>    82,484    94,773  47%        35<tspan font-family='"Liberation Sans", sans-serif'>0</tspan>97    14,365  71%      216,145</text>
<text class="m" transform="translate(5,592) scale(0.82,1)" x="-0.12 7.32 14.63 21.95 29.27 36.59 43.90 51.22 58.54 65.85 73.17 80.49 87.80 95.12 102.44 109.76 117.07 124.39 131.71 139.02 146.34 153.66 160.98 168.29 175.61 182.93 190.24 197.56 204.88 212.20 219.51 226.83 234.15 241.46 248.78 256.10 263.41 270.73 278.05 285.37 292.68 300.00 307.32 314.63 321.95 329.27 336.59 343.90 351.22 358.54 365.85 373.17 380.49 387.80 395.12 402.44 409.76 417.07 424.39 431.71 439.02 446.34 453.66 460.98 468.29 475.61 482.93 490.24 497.56 504.88 512.20 519.51 526.83 534.15 541.46 548.78 556.10 563.41 570.73 578.05 585.37 592.68 600.00 607.32 614.63 621.95 629.27 636.59 643.90 651.22 658.54 665.85 673.17 680.49 687.80 695.12 702.44 709.76 717.07 724.39 731.71 739.02 746.34 753.66 760.98 768.29 775.61 782.93 790.24 797.56" y="0" font-size="12.2" fill="#000" stroke="#000" stroke-width="0.2" xml:space="preserve" style="white-space:pre"><tspan font-family='"Liberation Sans", sans-serif'>0</tspan>6/11/19 221    85,225    82,565  51%     85    85,922   111,113  44%        36497    13,966  72%      226,513</text>
<text class="m" transform="translate(5,605) scale(0.82,1)" x="-0.12 7.32 14.63 21.95 29.27 36.59 43.90 51.22 58.54 65.85 73.17 80.49 87.80 95.12 102.44 109.76 117.07 124.39 131.71 139.02 146.34 153.66 160.98 168.29 175.61 182.93 190.24 197.56 204.88 212.20 219.51 226.83 234.15 241.46 248.78 256.10 263.41 270.73 278.05 285.37 292.68 300.00 307.32 314.63 321.95 329.27 336.59 343.90 351.22 358.41 365.85 373.17 380.49 387.80 395.12 402.44 409.76 417.07 424.39 431.71 439.02 446.34 453.66 460.98 468.29 475.61 482.93 490.24 497.56 504.88 512.20 519.51 526.83 534.15 541.46 548.78 556.10 563.41 570.73 578.05 585.37 592.68 600.00 607.32 614.63 621.95 629.27 636.59 643.90 651.22 658.54 665.85 673.17 680.49 687.80 695.12 702.44 709.76 717.07 724.39 731.71 739.02 746.34 753.66 760.98 768.29 775.61 782.93 790.24 797.56" y="0" font-size="12.2" fill="#000" stroke="#000" stroke-width="0.2" xml:space="preserve" style="white-space:pre"><tspan font-family='"Liberation Sans", sans-serif'>0</tspan>6/18/19 224    93,275    78,759  54%     88    9<tspan font-family='"Liberation Sans", sans-serif'>0</tspan>,242   124,729  42%        33455    13,484  71%      239,466</text>
<text class="m" transform="translate(5,618) scale(0.82,1)" x="-0.12 7.32 14.63 21.95 29.27 36.59 43.90 51.22 58.54 65.85 73.05 80.49 87.80 95.12 102.44 109.76 117.07 124.39 131.71 139.02 146.34 153.66 160.98 168.29 175.61 182.93 190.24 197.56 204.88 212.07 219.39 226.83 234.15 241.46 248.78 256.10 263.41 270.73 278.05 285.37 292.68 300.00 307.32 314.63 321.95 329.27 336.59 343.90 351.22 358.41 365.85 373.05 380.49 387.80 395.12 402.44 409.76 417.07 424.39 431.71 439.02 446.34 453.54 460.98 468.29 475.61 482.93 490.24 497.56 504.88 512.20 519.51 526.83 534.15 541.46 548.78 556.10 563.41 570.73 578.05 585.37 592.68 600.00 607.32 614.63 621.95 629.27 636.59 643.90 651.22 658.54 665.73 673.17 680.49 687.80 695.12 702.44 709.76 717.07 724.39 731.71 739.02 746.34 753.66 760.98 768.29 775.61 782.80 790.12 797.56" y="0" font-size="12.2" fill="#000" stroke="#000" stroke-width="0.2" xml:space="preserve" style="white-space:pre"><tspan font-family='"Liberation Sans", sans-serif'>0</tspan>6/25/19 2<tspan font-family='"Liberation Sans", sans-serif'>0</tspan>9    97,573    67,<tspan font-family='"Liberation Sans", sans-serif'>0</tspan><tspan font-family='"Liberation Sans", sans-serif'>0</tspan>8  59%     87    8<tspan font-family='"Liberation Sans", sans-serif'>0</tspan>,<tspan font-family='"Liberation Sans", sans-serif'>0</tspan>49   133,6<tspan font-family='"Liberation Sans", sans-serif'>0</tspan>1  37%        34637    11,65<tspan font-family='"Liberation Sans", sans-serif'>0</tspan>  75%      229,<tspan font-family='"Liberation Sans", sans-serif'>0</tspan><tspan font-family='"Liberation Sans", sans-serif'>0</tspan>7</text>
</svg></body></html>
